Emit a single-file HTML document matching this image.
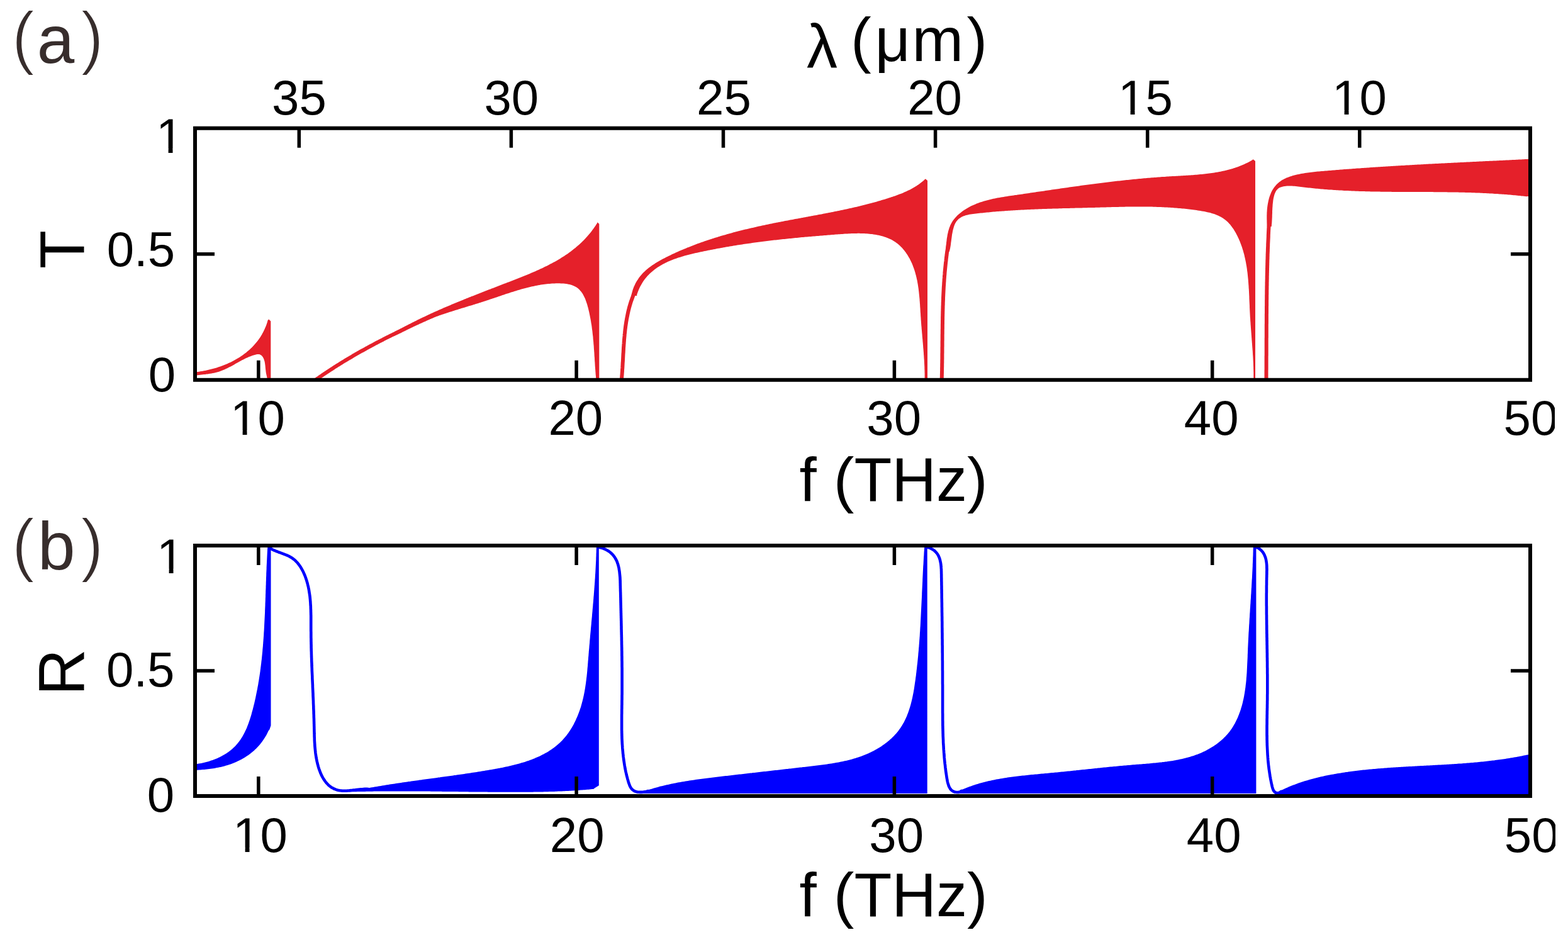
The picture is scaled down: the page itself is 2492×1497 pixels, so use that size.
<!DOCTYPE html>
<html><head><meta charset="utf-8"><title>Transmission and reflection spectra</title>
<style>html,body{margin:0;padding:0;background:#fff;overflow:hidden}svg{display:block}</style>
</head><body>
<svg xmlns="http://www.w3.org/2000/svg" width="2492" height="1497" viewBox="0 0 2492 1497">
<defs>
<clipPath id="ca"><rect x="310.0" y="203.8" width="2122.0" height="401.0"/></clipPath>
<clipPath id="cb"><rect x="310.0" y="867.0" width="2122.0" height="399.0"/></clipPath>
<clipPath id="cr"><rect x="0" y="0" width="2471" height="1497"/></clipPath>
<clipPath id="c0"><path clip-rule="evenodd" d="M1727.0 82.0H2177.0V232.0H1727.0ZM1780.81 175.17H1796.61V185.00H1780.81ZM1803.49 175.17H1818.89V185.00H1803.49Z"/></clipPath>
<clipPath id="c1"><path clip-rule="evenodd" d="M2067.0 82.0H2517.0V232.0H2067.0ZM2120.81 175.17H2136.61V185.00H2120.81ZM2143.49 175.17H2158.89V185.00H2143.49Z"/></clipPath>
<clipPath id="c2"><path clip-rule="evenodd" d="M198.0 143.0H648.0V293.0H198.0ZM251.81 236.17H267.61V246.00H251.81ZM274.49 236.17H289.89V246.00H274.49Z"/></clipPath>
<clipPath id="c3"><path clip-rule="evenodd" d="M316.0 591.0H766.0V741.0H316.0ZM369.81 684.17H385.61V694.00H369.81ZM392.49 684.17H407.89V694.00H392.49Z"/></clipPath>
<clipPath id="c4"><path clip-rule="evenodd" d="M2339.6 591.1H2471.0V741.1H2339.6Z"/></clipPath>
<clipPath id="c5"><path clip-rule="evenodd" d="M199.0 811.0H649.0V961.0H199.0ZM252.81 904.17H268.61V914.00H252.81ZM275.49 904.17H290.89V914.00H275.49Z"/></clipPath>
<clipPath id="c6"><path clip-rule="evenodd" d="M320.0 1254.0H770.0V1404.0H320.0ZM373.81 1347.17H389.61V1357.00H373.81ZM396.49 1347.17H411.89V1357.00H396.49Z"/></clipPath>
<clipPath id="c7"><path clip-rule="evenodd" d="M2340.8 1253.8H2472.0V1403.8H2340.8Z"/></clipPath>
</defs>
<rect width="2492" height="1497" fill="#fff"/>
<g clip-path="url(#ca)" fill="#e5202a" stroke="none">
<path d="M300.0 592.5 L302.0 592.2 L304.0 592.0 L306.0 591.9 L308.0 591.7 L310.0 591.4 L312.0 591.2 L314.1 590.9 L316.1 590.7 L318.1 590.3 L320.1 590.0 L322.1 589.7 L324.1 589.3 L326.2 588.9 L328.2 588.5 L330.2 588.1 L332.2 587.6 L334.2 587.1 L336.2 586.6 L338.2 586.1 L340.2 585.5 L342.1 585.0 L344.1 584.4 L346.1 583.7 L348.0 583.1 L350.0 582.4 L351.9 581.7 L353.9 581.0 L355.8 580.3 L357.7 579.5 L359.6 578.7 L361.5 577.9 L363.3 577.1 L365.2 576.2 L367.0 575.4 L368.8 574.5 L370.7 573.5 L372.5 572.6 L374.2 571.6 L376.0 570.6 L377.7 569.6 L379.5 568.5 L381.2 567.4 L382.9 566.3 L384.5 565.2 L386.2 564.0 L387.8 562.8 L389.4 561.6 L391.0 560.4 L392.5 559.1 L394.1 557.8 L395.6 556.5 L397.1 555.2 L398.5 553.8 L400.0 552.4 L401.4 551.0 L402.8 549.6 L404.1 548.1 L405.4 546.6 L406.7 545.1 L408.0 543.5 L409.2 542.0 L410.5 540.3 L411.6 538.7 L412.8 537.0 L413.9 535.4 L415.0 533.6 L416.0 531.9 L417.0 530.1 L418.0 528.3 L418.9 526.5 L419.8 524.6 L420.7 522.8 L421.5 520.8 L422.3 518.9 L423.1 516.9 L423.8 514.9 L424.5 512.9 L425.1 510.8 L425.7 508.8 L427.3 507.6 L430.3 510.5 L430.3 610.0 L424.6 610.0 L424.9 607.7 L424.9 605.5 L424.9 603.5 L424.7 601.7 L424.4 599.9 L424.0 598.1 L423.6 596.3 L423.2 594.5 L422.8 592.6 L422.5 590.6 L422.3 588.4 L422.0 586.2 L421.8 583.9 L421.6 581.6 L421.3 579.3 L421.0 577.0 L420.6 574.8 L420.0 572.7 L419.4 570.7 L418.6 568.9 L417.6 567.2 L416.5 565.8 L415.1 564.6 L413.7 563.7 L412.1 563.1 L410.4 563.0 L408.5 563.1 L406.7 563.5 L404.8 564.0 L403.0 564.5 L401.2 565.1 L399.3 565.7 L397.5 566.4 L395.7 567.1 L393.9 567.9 L392.0 568.7 L390.2 569.6 L388.4 570.5 L386.6 571.4 L384.8 572.3 L383.0 573.3 L381.2 574.3 L379.4 575.3 L377.6 576.3 L375.7 577.3 L373.9 578.3 L372.1 579.4 L370.3 580.4 L368.5 581.4 L366.6 582.4 L364.8 583.3 L362.9 584.3 L361.1 585.2 L359.2 586.1 L357.4 587.0 L355.5 587.8 L353.6 588.6 L351.7 589.3 L349.8 590.0 L347.9 590.7 L345.9 591.3 L344.0 591.8 L342.0 592.3 L340.1 592.7 L338.1 593.1 L336.1 593.5 L334.1 593.8 L332.1 594.1 L330.1 594.4 L328.1 594.6 L326.1 594.9 L324.1 595.1 L322.1 595.3 L320.1 595.5 L318.0 595.8 L316.0 596.0 L314.0 596.2 L312.0 596.5 L310.0 596.8 L308.0 597.1 L306.0 597.5 L304.0 597.9 L302.0 598.3 L300.0 598.5Z"/>
<path d="M612.0 537.6 L613.3 535.9 L615.0 534.8 L616.7 533.8 L618.4 532.8 L620.2 531.7 L621.9 530.7 L623.7 529.7 L625.4 528.7 L627.1 527.7 L628.9 526.7 L630.6 525.8 L632.4 524.8 L634.2 523.8 L635.9 522.8 L637.7 521.9 L639.4 520.9 L641.2 520.0 L643.0 519.0 L644.8 518.1 L646.5 517.2 L648.3 516.2 L650.1 515.3 L651.9 514.4 L653.7 513.5 L655.5 512.6 L657.2 511.7 L659.0 510.8 L660.8 509.9 L662.6 509.0 L664.4 508.1 L666.2 507.2 L668.0 506.3 L669.8 505.5 L671.7 504.6 L673.5 503.7 L675.3 502.9 L677.1 502.0 L678.9 501.2 L680.7 500.3 L682.6 499.5 L684.4 498.6 L686.2 497.8 L688.0 497.0 L689.9 496.1 L691.7 495.3 L693.5 494.5 L695.4 493.7 L697.2 492.8 L699.1 492.0 L700.9 491.2 L702.7 490.4 L704.6 489.6 L706.4 488.8 L708.3 488.0 L710.1 487.2 L712.0 486.4 L713.8 485.7 L715.7 484.9 L717.5 484.1 L719.4 483.3 L721.3 482.5 L723.1 481.8 L725.0 481.0 L726.8 480.2 L728.7 479.5 L730.6 478.7 L732.4 477.9 L734.3 477.2 L736.2 476.4 L738.1 475.6 L739.9 474.9 L741.8 474.1 L743.7 473.4 L745.5 472.6 L747.4 471.9 L749.3 471.1 L751.2 470.4 L753.1 469.7 L754.9 468.9 L756.8 468.2 L758.7 467.4 L760.6 466.7 L762.5 466.0 L764.4 465.2 L766.2 464.5 L768.1 463.8 L770.0 463.0 L771.9 462.3 L773.8 461.6 L775.7 460.8 L777.6 460.1 L779.5 459.4 L781.4 458.6 L783.3 457.9 L785.2 457.2 L787.0 456.4 L788.9 455.7 L790.8 455.0 L792.7 454.2 L794.6 453.5 L796.5 452.8 L798.4 452.1 L800.3 451.3 L802.2 450.6 L804.1 449.9 L806.0 449.1 L807.9 448.4 L809.8 447.7 L811.7 446.9 L813.6 446.2 L815.5 445.5 L817.4 444.7 L819.3 444.0 L821.2 443.3 L823.1 442.5 L825.0 441.8 L826.9 441.0 L828.8 440.3 L830.6 439.5 L832.5 438.8 L834.4 438.0 L836.3 437.2 L838.2 436.5 L840.0 435.7 L841.9 434.9 L843.8 434.1 L845.6 433.3 L847.5 432.5 L849.3 431.7 L851.2 430.9 L853.0 430.1 L854.9 429.3 L856.7 428.4 L858.5 427.6 L860.4 426.7 L862.2 425.9 L864.0 425.0 L865.8 424.1 L867.6 423.3 L869.4 422.4 L871.2 421.5 L873.0 420.6 L874.7 419.6 L876.5 418.7 L878.2 417.8 L880.0 416.8 L881.7 415.9 L883.5 414.9 L885.2 413.9 L886.9 412.9 L888.6 411.9 L890.3 410.9 L892.0 409.8 L893.6 408.8 L895.3 407.7 L897.0 406.7 L898.6 405.6 L900.2 404.5 L901.9 403.4 L903.5 402.2 L905.1 401.1 L906.7 399.9 L908.2 398.7 L909.8 397.5 L911.3 396.3 L912.9 395.1 L914.4 393.9 L915.9 392.6 L917.4 391.3 L918.9 390.0 L920.4 388.7 L921.8 387.4 L923.3 386.0 L924.7 384.7 L926.1 383.3 L927.5 381.9 L928.9 380.5 L930.3 379.0 L931.6 377.6 L933.0 376.1 L934.3 374.6 L935.6 373.1 L936.9 371.5 L938.2 369.9 L939.4 368.4 L940.7 366.8 L941.9 365.1 L943.1 363.5 L944.3 361.8 L945.5 360.1 L946.6 358.4 L947.8 356.6 L948.9 354.9 L949.6 353.2 L952.3 356.0 L952.3 610.0 L947.5 610.0 L947.9 607.9 L947.7 605.9 L947.5 603.9 L947.3 601.9 L947.1 599.9 L947.0 597.9 L946.8 595.9 L946.6 593.9 L946.5 591.9 L946.3 589.9 L946.2 587.9 L946.0 585.9 L945.9 583.9 L945.7 581.9 L945.6 579.9 L945.5 577.9 L945.4 575.9 L945.2 573.9 L945.1 572.0 L945.0 570.0 L944.9 568.0 L944.7 566.0 L944.6 564.0 L944.5 562.0 L944.4 560.0 L944.2 558.0 L944.1 556.0 L943.9 554.0 L943.8 552.0 L943.7 550.0 L943.5 548.0 L943.3 546.0 L943.2 544.0 L943.0 542.0 L942.8 540.0 L942.6 538.0 L942.5 536.0 L942.3 534.0 L942.0 532.0 L941.8 530.0 L941.6 528.0 L941.4 525.9 L941.1 523.9 L940.8 521.9 L940.6 519.9 L940.3 517.8 L940.0 515.8 L939.6 513.8 L939.3 511.7 L939.0 509.7 L938.6 507.6 L938.2 505.6 L937.8 503.5 L937.4 501.5 L937.0 499.4 L936.6 497.4 L936.1 495.3 L935.6 493.2 L935.1 491.1 L934.6 489.1 L934.0 487.0 L933.5 485.0 L932.9 482.9 L932.2 480.9 L931.5 478.9 L930.8 477.0 L930.1 475.1 L929.3 473.2 L928.4 471.4 L927.5 469.7 L926.6 468.0 L925.6 466.3 L924.5 464.8 L923.4 463.3 L922.2 461.9 L921.0 460.5 L919.7 459.3 L918.3 458.1 L916.9 457.1 L915.4 456.1 L913.8 455.2 L912.2 454.5 L910.5 453.7 L908.7 453.1 L907.0 452.6 L905.1 452.1 L903.3 451.7 L901.4 451.3 L899.5 451.0 L897.5 450.8 L895.5 450.6 L893.5 450.5 L891.5 450.4 L889.5 450.3 L887.5 450.3 L885.5 450.3 L883.4 450.3 L881.4 450.4 L879.4 450.5 L877.4 450.6 L875.4 450.7 L873.4 450.9 L871.4 451.1 L869.4 451.3 L867.4 451.5 L865.4 451.8 L863.4 452.0 L861.4 452.3 L859.4 452.6 L857.4 453.0 L855.4 453.3 L853.4 453.7 L851.4 454.1 L849.5 454.5 L847.5 454.9 L845.5 455.3 L843.5 455.8 L841.6 456.2 L839.6 456.7 L837.6 457.2 L835.7 457.7 L833.7 458.2 L831.7 458.7 L829.8 459.3 L827.8 459.8 L825.9 460.4 L823.9 461.0 L822.0 461.6 L820.0 462.2 L818.0 462.8 L816.1 463.4 L814.2 464.0 L812.2 464.6 L810.3 465.2 L808.3 465.9 L806.4 466.5 L804.4 467.1 L802.5 467.8 L800.6 468.4 L798.6 469.1 L796.7 469.7 L794.7 470.4 L792.8 471.1 L790.9 471.7 L788.9 472.4 L787.0 473.0 L785.1 473.7 L783.2 474.3 L781.2 475.0 L779.3 475.6 L777.4 476.3 L775.4 476.9 L773.5 477.6 L771.6 478.2 L769.7 478.8 L767.7 479.5 L765.8 480.1 L763.9 480.7 L761.9 481.3 L760.0 481.9 L758.1 482.5 L756.2 483.1 L754.2 483.7 L752.3 484.3 L750.4 484.9 L748.5 485.5 L746.6 486.1 L744.6 486.6 L742.7 487.2 L740.8 487.8 L738.9 488.4 L737.0 489.0 L735.1 489.6 L733.2 490.1 L731.3 490.7 L729.3 491.3 L727.4 491.9 L725.5 492.5 L723.6 493.1 L721.7 493.7 L719.8 494.3 L717.9 494.9 L716.0 495.5 L714.1 496.1 L712.2 496.7 L710.3 497.3 L708.5 497.9 L706.6 498.6 L704.7 499.2 L702.8 499.8 L700.9 500.5 L699.0 501.1 L697.2 501.8 L695.3 502.5 L693.4 503.1 L691.6 503.8 L689.7 504.5 L687.8 505.2 L686.0 505.9 L684.1 506.7 L682.2 507.4 L680.4 508.1 L678.5 508.9 L676.7 509.6 L674.8 510.4 L673.0 511.2 L671.2 512.0 L669.3 512.8 L667.5 513.6 L665.7 514.5 L663.8 515.3 L662.0 516.2 L660.2 517.0 L658.4 517.9 L656.6 518.8 L654.8 519.7 L653.0 520.7 L651.2 521.6 L649.4 522.6 L647.5 523.5 L645.7 524.5 L643.9 525.4 L642.1 526.4 L640.3 527.3 L638.5 528.3 L636.7 529.2 L634.9 530.1 L633.1 530.9 L631.2 531.8 L629.4 532.6 L627.6 533.4 L625.7 534.1 L623.8 534.8 L622.0 535.5 L620.1 536.1 L618.2 536.7 L616.2 537.2 L614.3 537.7 L612.3 538.1Z"/>
<path d="M1003.6 470.0 L1003.7 468.0 L1004.2 465.8 L1004.8 463.7 L1005.4 461.6 L1006.0 459.6 L1006.8 457.6 L1007.5 455.6 L1008.4 453.7 L1009.2 451.9 L1010.1 450.1 L1011.1 448.3 L1012.1 446.6 L1013.2 444.9 L1014.3 443.2 L1015.4 441.6 L1016.6 440.0 L1017.8 438.5 L1019.1 437.0 L1020.4 435.6 L1021.7 434.1 L1023.0 432.7 L1024.4 431.4 L1025.9 430.1 L1027.3 428.8 L1028.8 427.5 L1030.3 426.3 L1031.9 425.0 L1033.4 423.9 L1035.0 422.7 L1036.7 421.6 L1038.3 420.4 L1040.0 419.4 L1041.6 418.3 L1043.3 417.2 L1045.0 416.2 L1046.8 415.2 L1048.5 414.2 L1050.3 413.2 L1052.0 412.3 L1053.8 411.3 L1055.6 410.4 L1057.4 409.5 L1059.2 408.5 L1061.0 407.7 L1062.8 406.8 L1064.7 405.9 L1066.5 405.0 L1068.3 404.1 L1070.1 403.3 L1072.0 402.4 L1073.8 401.6 L1075.6 400.8 L1077.5 399.9 L1079.3 399.1 L1081.2 398.3 L1083.0 397.5 L1084.9 396.7 L1086.7 396.0 L1088.6 395.2 L1090.5 394.4 L1092.3 393.6 L1094.2 392.9 L1096.1 392.2 L1097.9 391.4 L1099.8 390.7 L1101.7 390.0 L1103.6 389.2 L1105.5 388.5 L1107.3 387.8 L1109.2 387.1 L1111.1 386.4 L1113.0 385.8 L1114.9 385.1 L1116.8 384.4 L1118.7 383.8 L1120.6 383.1 L1122.5 382.4 L1124.4 381.8 L1126.3 381.2 L1128.3 380.5 L1130.2 379.9 L1132.1 379.3 L1134.0 378.7 L1135.9 378.1 L1137.8 377.5 L1139.8 376.9 L1141.7 376.3 L1143.6 375.7 L1145.6 375.1 L1147.5 374.6 L1149.4 374.0 L1151.4 373.4 L1153.3 372.9 L1155.2 372.3 L1157.2 371.8 L1159.1 371.2 L1161.1 370.7 L1163.0 370.2 L1165.0 369.6 L1166.9 369.1 L1168.9 368.6 L1170.8 368.1 L1172.8 367.6 L1174.7 367.1 L1176.7 366.6 L1178.7 366.1 L1180.6 365.6 L1182.6 365.1 L1184.5 364.6 L1186.5 364.2 L1188.5 363.7 L1190.4 363.2 L1192.4 362.8 L1194.4 362.3 L1196.3 361.9 L1198.3 361.4 L1200.3 361.0 L1202.2 360.5 L1204.2 360.1 L1206.2 359.6 L1208.2 359.2 L1210.1 358.8 L1212.1 358.3 L1214.1 357.9 L1216.1 357.5 L1218.1 357.1 L1220.0 356.7 L1222.0 356.2 L1224.0 355.8 L1226.0 355.4 L1228.0 355.0 L1229.9 354.6 L1231.9 354.2 L1233.9 353.8 L1235.9 353.4 L1237.9 353.1 L1239.9 352.7 L1241.8 352.3 L1243.8 351.9 L1245.8 351.5 L1247.8 351.1 L1249.8 350.7 L1251.8 350.4 L1253.8 350.0 L1255.7 349.6 L1257.7 349.2 L1259.7 348.9 L1261.7 348.5 L1263.7 348.1 L1265.7 347.8 L1267.7 347.4 L1269.7 347.0 L1271.6 346.7 L1273.6 346.3 L1275.6 345.9 L1277.6 345.6 L1279.6 345.2 L1281.6 344.8 L1283.6 344.4 L1285.5 344.1 L1287.5 343.7 L1289.5 343.3 L1291.5 343.0 L1293.5 342.6 L1295.5 342.2 L1297.4 341.9 L1299.4 341.5 L1301.4 341.1 L1303.4 340.7 L1305.4 340.4 L1307.4 340.0 L1309.3 339.6 L1311.3 339.2 L1313.3 338.8 L1315.3 338.5 L1317.2 338.1 L1319.2 337.7 L1321.2 337.3 L1323.2 336.9 L1325.1 336.5 L1327.1 336.1 L1329.1 335.7 L1331.1 335.3 L1333.0 334.9 L1335.0 334.5 L1337.0 334.1 L1338.9 333.7 L1340.9 333.3 L1342.9 332.8 L1344.8 332.4 L1346.8 332.0 L1348.8 331.5 L1350.7 331.1 L1352.7 330.7 L1354.6 330.2 L1356.6 329.8 L1358.6 329.3 L1360.5 328.9 L1362.5 328.4 L1364.4 328.0 L1366.4 327.5 L1368.3 327.0 L1370.3 326.5 L1372.2 326.0 L1374.2 325.6 L1376.1 325.1 L1378.0 324.6 L1380.0 324.1 L1381.9 323.5 L1383.9 323.0 L1385.8 322.5 L1387.7 322.0 L1389.7 321.5 L1391.6 320.9 L1393.5 320.4 L1395.4 319.8 L1397.4 319.3 L1399.3 318.7 L1401.2 318.1 L1403.1 317.6 L1405.1 317.0 L1407.0 316.4 L1408.9 315.8 L1410.8 315.2 L1412.7 314.6 L1414.6 313.9 L1416.5 313.3 L1418.4 312.7 L1420.3 312.0 L1422.2 311.4 L1424.1 310.7 L1426.0 310.0 L1427.9 309.3 L1429.7 308.6 L1431.6 307.9 L1433.5 307.2 L1435.3 306.4 L1437.1 305.6 L1439.0 304.8 L1440.8 304.0 L1442.6 303.1 L1444.4 302.3 L1446.2 301.4 L1447.9 300.5 L1449.7 299.5 L1451.4 298.5 L1453.1 297.5 L1454.8 296.5 L1456.5 295.4 L1458.2 294.3 L1459.9 293.2 L1461.5 292.0 L1463.1 290.8 L1464.7 289.6 L1466.3 288.3 L1467.9 287.0 L1469.4 285.6 L1470.8 284.2 L1474.0 287.0 L1474.0 610.0 L1469.6 610.0 L1469.6 608.1 L1469.6 606.0 L1469.6 603.9 L1469.6 601.8 L1469.6 599.8 L1469.6 597.7 L1469.6 595.7 L1469.6 593.6 L1469.5 591.6 L1469.5 589.6 L1469.4 587.6 L1469.3 585.5 L1469.3 583.5 L1469.2 581.5 L1469.1 579.5 L1469.0 577.5 L1468.9 575.5 L1468.8 573.5 L1468.7 571.5 L1468.5 569.6 L1468.4 567.6 L1468.3 565.6 L1468.1 563.6 L1468.0 561.6 L1467.9 559.7 L1467.7 557.7 L1467.6 555.7 L1467.4 553.7 L1467.2 551.8 L1467.1 549.8 L1466.9 547.8 L1466.8 545.9 L1466.6 543.9 L1466.4 541.9 L1466.3 540.0 L1466.1 538.0 L1465.9 536.0 L1465.7 534.1 L1465.6 532.1 L1465.4 530.1 L1465.2 528.1 L1465.1 526.2 L1464.9 524.2 L1464.7 522.2 L1464.6 520.2 L1464.4 518.2 L1464.2 516.2 L1464.1 514.2 L1463.9 512.2 L1463.8 510.2 L1463.6 508.2 L1463.5 506.2 L1463.4 504.2 L1463.2 502.2 L1463.1 500.1 L1463.0 498.1 L1462.8 496.1 L1462.7 494.0 L1462.6 492.0 L1462.5 490.0 L1462.3 487.9 L1462.2 485.9 L1462.1 483.8 L1461.9 481.8 L1461.8 479.7 L1461.6 477.7 L1461.5 475.6 L1461.3 473.6 L1461.1 471.5 L1460.9 469.5 L1460.7 467.4 L1460.5 465.4 L1460.3 463.4 L1460.0 461.3 L1459.8 459.3 L1459.5 457.3 L1459.2 455.3 L1458.9 453.2 L1458.6 451.2 L1458.2 449.2 L1457.9 447.2 L1457.5 445.2 L1457.0 443.3 L1456.6 441.3 L1456.1 439.3 L1455.7 437.4 L1455.1 435.4 L1454.6 433.5 L1454.0 431.5 L1453.4 429.6 L1452.8 427.7 L1452.1 425.8 L1451.4 423.9 L1450.7 422.0 L1450.0 420.2 L1449.2 418.3 L1448.3 416.5 L1447.5 414.7 L1446.6 412.9 L1445.7 411.1 L1444.7 409.4 L1443.7 407.7 L1442.7 406.0 L1441.6 404.3 L1440.5 402.7 L1439.4 401.1 L1438.2 399.5 L1437.1 398.0 L1435.8 396.4 L1434.6 395.0 L1433.3 393.6 L1431.9 392.2 L1430.5 390.8 L1429.1 389.5 L1427.7 388.3 L1426.2 387.1 L1424.7 385.9 L1423.1 384.8 L1421.5 383.7 L1419.9 382.7 L1418.3 381.8 L1416.6 380.8 L1414.8 380.0 L1413.1 379.2 L1411.3 378.4 L1409.5 377.7 L1407.6 377.0 L1405.8 376.4 L1403.9 375.8 L1402.0 375.2 L1400.0 374.7 L1398.1 374.2 L1396.1 373.8 L1394.1 373.4 L1392.1 373.0 L1390.1 372.7 L1388.1 372.4 L1386.0 372.1 L1384.0 371.9 L1382.0 371.7 L1379.9 371.5 L1377.8 371.3 L1375.8 371.2 L1373.7 371.1 L1371.6 371.0 L1369.6 370.9 L1367.5 370.9 L1365.5 370.8 L1363.4 370.8 L1361.3 370.9 L1359.3 370.9 L1357.2 370.9 L1355.2 371.0 L1353.1 371.1 L1351.0 371.2 L1349.0 371.2 L1346.9 371.4 L1344.9 371.5 L1342.8 371.6 L1340.8 371.7 L1338.8 371.9 L1336.7 372.0 L1334.7 372.2 L1332.6 372.3 L1330.6 372.5 L1328.6 372.6 L1326.5 372.8 L1324.5 372.9 L1322.5 373.1 L1320.4 373.3 L1318.4 373.4 L1316.4 373.6 L1314.4 373.7 L1312.4 373.9 L1310.4 374.0 L1308.3 374.2 L1306.3 374.4 L1304.3 374.5 L1302.3 374.7 L1300.3 374.9 L1298.3 375.0 L1296.3 375.2 L1294.3 375.4 L1292.3 375.5 L1290.3 375.7 L1288.3 375.9 L1286.3 376.1 L1284.3 376.2 L1282.3 376.4 L1280.3 376.6 L1278.3 376.8 L1276.3 377.0 L1274.4 377.1 L1272.4 377.3 L1270.4 377.5 L1268.4 377.7 L1266.4 377.9 L1264.4 378.1 L1262.5 378.3 L1260.5 378.5 L1258.5 378.7 L1256.5 378.9 L1254.5 379.1 L1252.6 379.3 L1250.6 379.5 L1248.6 379.7 L1246.6 379.9 L1244.7 380.1 L1242.7 380.3 L1240.7 380.5 L1238.7 380.7 L1236.8 380.9 L1234.8 381.2 L1232.8 381.4 L1230.8 381.6 L1228.9 381.8 L1226.9 382.1 L1224.9 382.3 L1223.0 382.5 L1221.0 382.8 L1219.0 383.0 L1217.1 383.3 L1215.1 383.5 L1213.1 383.7 L1211.1 384.0 L1209.2 384.2 L1207.2 384.5 L1205.2 384.8 L1203.3 385.0 L1201.3 385.3 L1199.3 385.6 L1197.4 385.8 L1195.4 386.1 L1193.4 386.4 L1191.4 386.7 L1189.5 386.9 L1187.5 387.2 L1185.5 387.5 L1183.5 387.8 L1181.6 388.1 L1179.6 388.4 L1177.6 388.7 L1175.6 389.0 L1173.7 389.3 L1171.7 389.6 L1169.7 389.9 L1167.7 390.3 L1165.7 390.6 L1163.8 390.9 L1161.8 391.2 L1159.8 391.6 L1157.8 391.9 L1155.8 392.3 L1153.8 392.6 L1151.9 392.9 L1149.9 393.3 L1147.9 393.7 L1145.9 394.0 L1143.9 394.4 L1141.9 394.7 L1139.9 395.1 L1137.9 395.5 L1135.9 395.9 L1133.9 396.3 L1131.9 396.7 L1129.9 397.0 L1127.9 397.4 L1125.9 397.8 L1123.9 398.3 L1121.9 398.7 L1119.8 399.1 L1117.8 399.5 L1115.8 399.9 L1113.8 400.3 L1111.8 400.8 L1109.7 401.2 L1107.7 401.7 L1105.7 402.1 L1103.7 402.6 L1101.7 403.1 L1099.7 403.5 L1097.7 404.0 L1095.7 404.5 L1093.7 405.0 L1091.7 405.6 L1089.7 406.1 L1087.7 406.6 L1085.7 407.2 L1083.8 407.8 L1081.8 408.4 L1079.9 409.0 L1077.9 409.6 L1076.0 410.3 L1074.1 410.9 L1072.2 411.6 L1070.3 412.3 L1068.5 413.0 L1066.6 413.8 L1064.8 414.5 L1062.9 415.3 L1061.1 416.1 L1059.3 417.0 L1057.6 417.8 L1055.8 418.7 L1054.1 419.6 L1052.4 420.5 L1050.7 421.5 L1049.0 422.5 L1047.4 423.5 L1045.7 424.5 L1044.1 425.6 L1042.5 426.7 L1041.0 427.8 L1039.5 429.0 L1038.0 430.2 L1036.5 431.4 L1035.0 432.7 L1033.6 434.0 L1032.2 435.3 L1030.9 436.7 L1029.5 438.1 L1028.2 439.5 L1027.0 441.0 L1025.7 442.5 L1024.5 444.1 L1023.4 445.6 L1022.2 447.3 L1021.1 448.9 L1020.1 450.7 L1019.1 452.4 L1018.1 454.2 L1017.1 456.1 L1016.2 457.9 L1015.3 459.9 L1014.5 461.9 L1013.7 463.9 L1013.0 465.9 L1012.2 468.1 L1012.3 470.0Z"/>
<path d="M1502.6 400.0 L1503.0 398.2 L1503.2 396.3 L1503.3 394.3 L1503.5 392.3 L1503.7 390.3 L1503.8 388.3 L1504.0 386.2 L1504.3 384.2 L1504.5 382.1 L1504.7 380.0 L1505.0 378.0 L1505.4 375.9 L1505.7 373.8 L1506.1 371.8 L1506.6 369.7 L1507.0 367.7 L1507.6 365.7 L1508.2 363.8 L1508.8 361.8 L1509.6 360.0 L1510.3 358.1 L1511.2 356.3 L1512.1 354.5 L1513.1 352.8 L1514.2 351.1 L1515.3 349.5 L1516.5 347.9 L1517.8 346.4 L1519.1 344.9 L1520.5 343.5 L1521.9 342.1 L1523.4 340.7 L1524.9 339.4 L1526.5 338.2 L1528.0 336.9 L1529.6 335.7 L1531.3 334.6 L1532.9 333.5 L1534.6 332.4 L1536.2 331.4 L1537.9 330.4 L1539.6 329.4 L1541.4 328.5 L1543.1 327.6 L1544.9 326.8 L1546.7 325.9 L1548.5 325.2 L1550.3 324.4 L1552.1 323.6 L1554.0 322.9 L1555.8 322.3 L1557.7 321.6 L1559.6 321.0 L1561.4 320.4 L1563.3 319.8 L1565.3 319.2 L1567.2 318.7 L1569.1 318.2 L1571.1 317.7 L1573.0 317.2 L1575.0 316.7 L1576.9 316.3 L1578.9 315.8 L1580.9 315.4 L1582.9 315.0 L1584.9 314.6 L1586.9 314.3 L1588.9 313.9 L1590.9 313.6 L1592.9 313.2 L1594.9 312.9 L1597.0 312.6 L1599.0 312.2 L1601.0 311.9 L1603.0 311.6 L1605.1 311.3 L1607.1 311.0 L1609.1 310.7 L1611.2 310.4 L1613.2 310.1 L1615.2 309.9 L1617.2 309.6 L1619.3 309.3 L1621.3 309.0 L1623.3 308.7 L1625.3 308.4 L1627.3 308.1 L1629.4 307.8 L1631.4 307.5 L1633.4 307.2 L1635.4 306.9 L1637.4 306.6 L1639.4 306.3 L1641.4 306.0 L1643.4 305.7 L1645.4 305.4 L1647.4 305.1 L1649.5 304.8 L1651.5 304.5 L1653.5 304.3 L1655.5 304.0 L1657.5 303.7 L1659.5 303.4 L1661.5 303.1 L1663.5 302.8 L1665.5 302.5 L1667.4 302.2 L1669.4 301.9 L1671.4 301.6 L1673.4 301.3 L1675.4 301.0 L1677.4 300.7 L1679.4 300.5 L1681.4 300.2 L1683.4 299.9 L1685.4 299.6 L1687.4 299.3 L1689.4 299.0 L1691.3 298.7 L1693.3 298.5 L1695.3 298.2 L1697.3 297.9 L1699.3 297.6 L1701.3 297.3 L1703.3 297.0 L1705.3 296.8 L1707.2 296.5 L1709.2 296.2 L1711.2 295.9 L1713.2 295.7 L1715.2 295.4 L1717.2 295.1 L1719.1 294.8 L1721.1 294.6 L1723.1 294.3 L1725.1 294.0 L1727.1 293.8 L1729.1 293.5 L1731.0 293.2 L1733.0 293.0 L1735.0 292.7 L1737.0 292.5 L1739.0 292.2 L1740.9 291.9 L1742.9 291.7 L1744.9 291.4 L1746.9 291.2 L1748.9 290.9 L1750.9 290.7 L1752.8 290.4 L1754.8 290.2 L1756.8 289.9 L1758.8 289.7 L1760.8 289.5 L1762.8 289.2 L1764.8 289.0 L1766.7 288.7 L1768.7 288.5 L1770.7 288.3 L1772.7 288.1 L1774.7 287.8 L1776.7 287.6 L1778.7 287.4 L1780.7 287.2 L1782.7 286.9 L1784.6 286.7 L1786.6 286.5 L1788.6 286.3 L1790.6 286.1 L1792.6 285.9 L1794.6 285.7 L1796.6 285.4 L1798.6 285.2 L1800.6 285.0 L1802.6 284.8 L1804.6 284.7 L1806.6 284.5 L1808.6 284.3 L1810.6 284.1 L1812.6 283.9 L1814.6 283.7 L1816.6 283.5 L1818.6 283.3 L1820.6 283.2 L1822.6 283.0 L1824.6 282.8 L1826.6 282.7 L1828.7 282.5 L1830.7 282.3 L1832.7 282.2 L1834.7 282.0 L1836.7 281.9 L1838.7 281.7 L1840.8 281.6 L1842.8 281.4 L1844.8 281.3 L1846.8 281.1 L1848.8 281.0 L1850.9 280.9 L1852.9 280.7 L1854.9 280.6 L1857.0 280.5 L1859.0 280.3 L1861.0 280.2 L1863.1 280.1 L1865.1 280.0 L1867.1 279.9 L1869.2 279.8 L1871.2 279.7 L1873.2 279.5 L1875.3 279.4 L1877.3 279.3 L1879.4 279.2 L1881.4 279.1 L1883.4 279.0 L1885.5 278.8 L1887.5 278.7 L1889.6 278.6 L1891.6 278.4 L1893.6 278.3 L1895.7 278.2 L1897.7 278.0 L1899.7 277.8 L1901.7 277.7 L1903.8 277.5 L1905.8 277.3 L1907.8 277.1 L1909.8 277.0 L1911.8 276.7 L1913.9 276.5 L1915.9 276.3 L1917.9 276.1 L1919.9 275.8 L1921.9 275.6 L1923.9 275.3 L1925.9 275.0 L1927.8 274.7 L1929.8 274.4 L1931.8 274.1 L1933.8 273.8 L1935.7 273.4 L1937.7 273.0 L1939.7 272.7 L1941.6 272.3 L1943.6 271.8 L1945.5 271.4 L1947.5 271.0 L1949.4 270.5 L1951.3 270.0 L1953.2 269.5 L1955.1 269.0 L1957.0 268.4 L1958.9 267.9 L1960.8 267.3 L1962.7 266.7 L1964.6 266.0 L1966.5 265.4 L1968.3 264.7 L1970.2 264.0 L1972.0 263.3 L1973.9 262.5 L1975.7 261.8 L1977.5 261.0 L1979.3 260.1 L1981.1 259.3 L1982.9 258.4 L1984.7 257.5 L1986.5 256.6 L1988.2 255.6 L1990.0 254.6 L1991.6 253.3 L1995.0 256.0 L1995.0 610.0 L1992.3 610.0 L1992.2 608.1 L1992.2 606.0 L1992.3 604.0 L1992.3 601.9 L1992.3 599.9 L1992.3 597.9 L1992.3 595.9 L1992.3 593.9 L1992.3 591.8 L1992.2 589.8 L1992.2 587.8 L1992.1 585.8 L1992.1 583.8 L1992.0 581.8 L1991.9 579.8 L1991.9 577.8 L1991.8 575.8 L1991.7 573.8 L1991.6 571.8 L1991.5 569.8 L1991.4 567.8 L1991.3 565.8 L1991.1 563.8 L1991.0 561.8 L1990.9 559.8 L1990.8 557.8 L1990.6 555.8 L1990.5 553.9 L1990.3 551.9 L1990.2 549.9 L1990.0 547.9 L1989.9 545.9 L1989.7 543.9 L1989.6 541.9 L1989.4 539.9 L1989.3 538.0 L1989.1 536.0 L1989.0 534.0 L1988.8 532.0 L1988.7 530.0 L1988.5 528.0 L1988.4 526.0 L1988.2 524.0 L1988.1 522.1 L1987.9 520.1 L1987.8 518.1 L1987.6 516.1 L1987.5 514.1 L1987.4 512.1 L1987.2 510.1 L1987.1 508.1 L1987.0 506.1 L1986.8 504.1 L1986.7 502.1 L1986.6 500.1 L1986.5 498.1 L1986.4 496.0 L1986.3 494.0 L1986.2 492.0 L1986.1 490.0 L1986.0 488.0 L1986.0 486.0 L1985.9 483.9 L1985.8 481.9 L1985.7 479.9 L1985.6 477.9 L1985.5 475.9 L1985.4 473.8 L1985.4 471.8 L1985.3 469.8 L1985.2 467.8 L1985.1 465.7 L1985.0 463.7 L1984.9 461.7 L1984.8 459.7 L1984.6 457.7 L1984.5 455.6 L1984.4 453.6 L1984.2 451.6 L1984.1 449.6 L1983.9 447.6 L1983.8 445.6 L1983.6 443.6 L1983.4 441.6 L1983.2 439.5 L1983.0 437.5 L1982.8 435.6 L1982.6 433.6 L1982.3 431.6 L1982.0 429.6 L1981.8 427.6 L1981.5 425.6 L1981.2 423.6 L1980.9 421.7 L1980.5 419.7 L1980.2 417.7 L1979.8 415.8 L1979.4 413.8 L1979.0 411.9 L1978.6 409.9 L1978.1 408.0 L1977.7 406.0 L1977.2 404.1 L1976.7 402.2 L1976.1 400.2 L1975.6 398.3 L1975.0 396.4 L1974.4 394.5 L1973.8 392.6 L1973.1 390.7 L1972.4 388.8 L1971.7 387.0 L1971.0 385.1 L1970.3 383.2 L1969.5 381.4 L1968.7 379.5 L1967.8 377.7 L1966.9 375.8 L1966.0 374.0 L1965.1 372.2 L1964.2 370.4 L1963.2 368.7 L1962.1 366.9 L1961.1 365.2 L1960.0 363.5 L1958.8 361.9 L1957.6 360.3 L1956.4 358.7 L1955.2 357.1 L1953.9 355.7 L1952.6 354.2 L1951.2 352.8 L1949.8 351.5 L1948.3 350.2 L1946.8 349.0 L1945.3 347.9 L1943.7 346.8 L1942.0 345.8 L1940.4 344.8 L1938.7 343.9 L1936.9 343.0 L1935.1 342.2 L1933.3 341.5 L1931.5 340.8 L1929.6 340.1 L1927.7 339.5 L1925.8 338.9 L1923.9 338.3 L1921.9 337.8 L1919.9 337.4 L1917.9 336.9 L1915.9 336.5 L1913.9 336.1 L1911.9 335.7 L1909.9 335.4 L1907.8 335.0 L1905.8 334.7 L1903.7 334.4 L1901.7 334.1 L1899.7 333.8 L1897.6 333.5 L1895.6 333.3 L1893.5 333.0 L1891.5 332.7 L1889.5 332.5 L1887.4 332.3 L1885.4 332.0 L1883.4 331.8 L1881.4 331.6 L1879.3 331.4 L1877.3 331.2 L1875.3 331.0 L1873.3 330.9 L1871.2 330.7 L1869.2 330.5 L1867.2 330.4 L1865.2 330.2 L1863.2 330.1 L1861.2 329.9 L1859.1 329.8 L1857.1 329.7 L1855.1 329.6 L1853.1 329.5 L1851.1 329.4 L1849.1 329.3 L1847.1 329.2 L1845.1 329.1 L1843.1 329.0 L1841.1 328.9 L1839.0 328.9 L1837.0 328.8 L1835.0 328.7 L1833.0 328.7 L1831.0 328.6 L1829.0 328.6 L1827.0 328.6 L1825.0 328.5 L1823.0 328.5 L1821.0 328.5 L1819.0 328.5 L1817.0 328.5 L1815.0 328.4 L1813.0 328.4 L1811.0 328.4 L1809.1 328.4 L1807.1 328.4 L1805.1 328.4 L1803.1 328.5 L1801.1 328.5 L1799.1 328.5 L1797.1 328.5 L1795.1 328.5 L1793.1 328.6 L1791.1 328.6 L1789.1 328.6 L1787.1 328.7 L1785.1 328.7 L1783.1 328.7 L1781.1 328.8 L1779.2 328.8 L1777.2 328.9 L1775.2 328.9 L1773.2 329.0 L1771.2 329.0 L1769.2 329.1 L1767.2 329.1 L1765.2 329.2 L1763.2 329.2 L1761.2 329.3 L1759.2 329.3 L1757.2 329.4 L1755.2 329.4 L1753.2 329.5 L1751.3 329.5 L1749.3 329.6 L1747.3 329.7 L1745.3 329.7 L1743.3 329.8 L1741.3 329.8 L1739.3 329.9 L1737.3 329.9 L1735.3 330.0 L1733.3 330.0 L1731.3 330.1 L1729.3 330.1 L1727.3 330.2 L1725.3 330.2 L1723.3 330.3 L1721.3 330.3 L1719.3 330.4 L1717.3 330.4 L1715.3 330.5 L1713.3 330.5 L1711.3 330.6 L1709.3 330.6 L1707.3 330.7 L1705.3 330.7 L1703.3 330.8 L1701.3 330.8 L1699.3 330.9 L1697.3 330.9 L1695.3 331.0 L1693.2 331.0 L1691.2 331.1 L1689.2 331.1 L1687.2 331.2 L1685.2 331.3 L1683.2 331.3 L1681.2 331.4 L1679.2 331.4 L1677.2 331.5 L1675.2 331.5 L1673.2 331.6 L1671.2 331.7 L1669.2 331.7 L1667.2 331.8 L1665.2 331.8 L1663.1 331.9 L1661.1 332.0 L1659.1 332.1 L1657.1 332.1 L1655.1 332.2 L1653.1 332.3 L1651.1 332.3 L1649.1 332.4 L1647.1 332.5 L1645.1 332.6 L1643.1 332.7 L1641.0 332.7 L1639.0 332.8 L1637.0 332.9 L1635.0 333.0 L1633.0 333.1 L1631.0 333.2 L1629.0 333.3 L1627.0 333.4 L1625.0 333.5 L1623.0 333.6 L1621.0 333.7 L1618.9 333.8 L1616.9 333.9 L1614.9 334.1 L1612.9 334.2 L1610.9 334.3 L1608.9 334.4 L1606.9 334.5 L1604.9 334.7 L1602.9 334.8 L1600.9 334.9 L1598.9 335.1 L1596.9 335.2 L1594.8 335.4 L1592.8 335.5 L1590.8 335.7 L1588.8 335.8 L1586.8 336.0 L1584.8 336.1 L1582.8 336.3 L1580.8 336.5 L1578.8 336.6 L1576.8 336.8 L1574.8 337.0 L1572.8 337.2 L1570.8 337.4 L1568.8 337.6 L1566.8 337.8 L1564.7 338.0 L1562.7 338.2 L1560.7 338.4 L1558.7 338.6 L1556.7 338.8 L1554.7 339.0 L1552.7 339.2 L1550.7 339.5 L1548.7 339.7 L1546.7 340.0 L1544.7 340.2 L1542.8 340.5 L1540.8 340.8 L1538.9 341.2 L1537.0 341.7 L1535.2 342.1 L1533.4 342.7 L1531.6 343.3 L1530.0 344.0 L1528.3 344.8 L1526.8 345.7 L1525.3 346.7 L1523.8 347.8 L1522.5 349.0 L1521.2 350.4 L1520.1 351.8 L1519.0 353.4 L1518.0 355.2 L1517.2 357.1 L1516.4 359.1 L1515.7 361.2 L1515.1 363.4 L1514.5 365.6 L1514.0 367.9 L1513.6 370.2 L1513.1 372.6 L1512.8 374.9 L1512.5 377.2 L1512.2 379.5 L1511.9 381.8 L1511.6 384.0 L1511.3 386.1 L1511.1 388.2 L1510.8 390.2 L1510.5 392.0 L1510.2 393.8 L1509.9 395.5 L1509.5 397.1 L1509.1 398.6 L1508.6 400.0Z"/>
<path d="M2013.5 360.0 L2013.8 358.4 L2013.6 356.4 L2013.5 354.5 L2013.4 352.4 L2013.4 350.4 L2013.3 348.4 L2013.3 346.3 L2013.3 344.2 L2013.3 342.1 L2013.4 340.0 L2013.4 337.9 L2013.6 335.7 L2013.7 333.6 L2013.9 331.5 L2014.1 329.4 L2014.4 327.3 L2014.7 325.2 L2015.1 323.1 L2015.5 321.0 L2015.9 319.0 L2016.4 317.0 L2016.9 315.0 L2017.5 313.0 L2018.2 311.1 L2018.9 309.2 L2019.6 307.4 L2020.4 305.6 L2021.3 303.8 L2022.2 302.1 L2023.2 300.5 L2024.2 298.9 L2025.4 297.3 L2026.5 295.9 L2027.7 294.4 L2029.0 293.1 L2030.4 291.8 L2031.8 290.5 L2033.2 289.3 L2034.7 288.2 L2036.3 287.1 L2037.9 286.1 L2039.5 285.2 L2041.2 284.3 L2043.0 283.4 L2044.7 282.6 L2046.6 281.9 L2048.4 281.2 L2050.3 280.5 L2052.2 279.9 L2054.1 279.3 L2056.0 278.8 L2058.0 278.3 L2060.0 277.8 L2062.0 277.3 L2064.0 276.9 L2066.0 276.5 L2068.0 276.1 L2070.0 275.8 L2072.0 275.4 L2074.0 275.1 L2076.1 274.8 L2078.1 274.5 L2080.1 274.2 L2082.1 274.0 L2084.1 273.7 L2086.2 273.5 L2088.2 273.3 L2090.2 273.0 L2092.2 272.8 L2094.3 272.6 L2096.3 272.5 L2098.3 272.3 L2100.3 272.1 L2102.3 271.9 L2104.4 271.7 L2106.4 271.6 L2108.4 271.4 L2110.4 271.2 L2112.5 271.1 L2114.5 270.9 L2116.5 270.7 L2118.5 270.6 L2120.5 270.4 L2122.5 270.2 L2124.6 270.1 L2126.6 269.9 L2128.6 269.8 L2130.6 269.6 L2132.6 269.4 L2134.6 269.3 L2136.7 269.1 L2138.7 269.0 L2140.7 268.8 L2142.7 268.7 L2144.7 268.5 L2146.7 268.4 L2148.8 268.2 L2150.8 268.1 L2152.8 267.9 L2154.8 267.8 L2156.8 267.6 L2158.8 267.5 L2160.8 267.4 L2162.8 267.2 L2164.8 267.1 L2166.9 266.9 L2168.9 266.8 L2170.9 266.7 L2172.9 266.5 L2174.9 266.4 L2176.9 266.2 L2178.9 266.1 L2180.9 266.0 L2182.9 265.8 L2184.9 265.7 L2187.0 265.6 L2189.0 265.4 L2191.0 265.3 L2193.0 265.2 L2195.0 265.1 L2197.0 264.9 L2199.0 264.8 L2201.0 264.7 L2203.0 264.5 L2205.0 264.4 L2207.0 264.3 L2209.0 264.2 L2211.0 264.0 L2213.0 263.9 L2215.0 263.8 L2217.1 263.7 L2219.1 263.6 L2221.1 263.4 L2223.1 263.3 L2225.1 263.2 L2227.1 263.1 L2229.1 263.0 L2231.1 262.9 L2233.1 262.7 L2235.1 262.6 L2237.1 262.5 L2239.1 262.4 L2241.1 262.3 L2243.1 262.2 L2245.1 262.1 L2247.1 261.9 L2249.1 261.8 L2251.1 261.7 L2253.1 261.6 L2255.1 261.5 L2257.1 261.4 L2259.1 261.3 L2261.1 261.2 L2263.2 261.1 L2265.2 261.0 L2267.2 260.8 L2269.2 260.7 L2271.2 260.6 L2273.2 260.5 L2275.2 260.4 L2277.2 260.3 L2279.2 260.2 L2281.2 260.1 L2283.2 260.0 L2285.2 259.9 L2287.2 259.8 L2289.2 259.7 L2291.2 259.6 L2293.2 259.5 L2295.2 259.4 L2297.2 259.3 L2299.2 259.2 L2301.2 259.1 L2303.2 259.0 L2305.2 258.9 L2307.2 258.8 L2309.2 258.7 L2311.3 258.6 L2313.3 258.5 L2315.3 258.4 L2317.3 258.3 L2319.3 258.2 L2321.3 258.1 L2323.3 258.0 L2325.3 257.9 L2327.3 257.8 L2329.3 257.7 L2331.3 257.6 L2333.3 257.5 L2335.3 257.4 L2337.3 257.3 L2339.3 257.2 L2341.3 257.1 L2343.4 257.0 L2345.4 256.9 L2347.4 256.8 L2349.4 256.7 L2351.4 256.6 L2353.4 256.5 L2355.4 256.4 L2357.4 256.3 L2359.4 256.2 L2361.4 256.1 L2363.4 256.0 L2365.5 255.9 L2367.5 255.8 L2369.5 255.7 L2371.5 255.7 L2373.5 255.6 L2375.5 255.5 L2377.5 255.4 L2379.5 255.3 L2381.6 255.2 L2383.6 255.1 L2385.6 255.0 L2387.6 254.9 L2389.6 254.8 L2391.6 254.7 L2393.6 254.6 L2395.7 254.5 L2397.7 254.4 L2399.7 254.3 L2401.7 254.2 L2403.7 254.1 L2405.7 254.0 L2407.8 253.9 L2409.8 253.8 L2411.8 253.7 L2413.8 253.6 L2415.8 253.5 L2417.8 253.4 L2419.9 253.3 L2421.9 253.2 L2423.9 253.1 L2425.9 253.0 L2428.0 252.9 L2430.0 252.8 L2432.0 252.7 L2434.0 252.6 L2436.0 252.5 L2438.1 252.4 L2440.0 252.5 L2440.0 313.0 L2427.8 312.0 L2425.9 312.3 L2423.9 312.0 L2421.8 311.8 L2419.8 311.6 L2417.8 311.4 L2415.8 311.1 L2413.8 310.9 L2411.7 310.7 L2409.7 310.5 L2407.7 310.3 L2405.7 310.2 L2403.7 310.0 L2401.7 309.8 L2399.6 309.6 L2397.6 309.4 L2395.6 309.3 L2393.6 309.1 L2391.6 309.0 L2389.6 308.8 L2387.6 308.7 L2385.5 308.5 L2383.5 308.4 L2381.5 308.2 L2379.5 308.1 L2377.5 308.0 L2375.5 307.9 L2373.5 307.7 L2371.4 307.6 L2369.4 307.5 L2367.4 307.4 L2365.4 307.3 L2363.4 307.2 L2361.4 307.1 L2359.4 307.0 L2357.4 306.9 L2355.3 306.8 L2353.3 306.7 L2351.3 306.6 L2349.3 306.5 L2347.3 306.5 L2345.3 306.4 L2343.3 306.3 L2341.3 306.3 L2339.3 306.2 L2337.3 306.1 L2335.2 306.1 L2333.2 306.0 L2331.2 305.9 L2329.2 305.9 L2327.2 305.8 L2325.2 305.8 L2323.2 305.7 L2321.2 305.7 L2319.2 305.7 L2317.2 305.6 L2315.1 305.6 L2313.1 305.5 L2311.1 305.5 L2309.1 305.5 L2307.1 305.4 L2305.1 305.4 L2303.1 305.4 L2301.1 305.4 L2299.1 305.3 L2297.1 305.3 L2295.1 305.3 L2293.0 305.3 L2291.0 305.2 L2289.0 305.2 L2287.0 305.2 L2285.0 305.2 L2283.0 305.2 L2281.0 305.2 L2279.0 305.2 L2277.0 305.1 L2275.0 305.1 L2273.0 305.1 L2271.0 305.1 L2268.9 305.1 L2266.9 305.1 L2264.9 305.1 L2262.9 305.1 L2260.9 305.1 L2258.9 305.1 L2256.9 305.1 L2254.9 305.1 L2252.9 305.0 L2250.9 305.0 L2248.9 305.0 L2246.8 305.0 L2244.8 305.0 L2242.8 305.0 L2240.8 305.0 L2238.8 305.0 L2236.8 305.0 L2234.8 305.0 L2232.8 305.0 L2230.8 305.0 L2228.8 305.0 L2226.8 305.0 L2224.7 304.9 L2222.7 304.9 L2220.7 304.9 L2218.7 304.9 L2216.7 304.9 L2214.7 304.9 L2212.7 304.9 L2210.7 304.8 L2208.7 304.8 L2206.7 304.8 L2204.6 304.8 L2202.6 304.8 L2200.6 304.7 L2198.6 304.7 L2196.6 304.7 L2194.6 304.7 L2192.6 304.6 L2190.6 304.6 L2188.6 304.6 L2186.5 304.5 L2184.5 304.5 L2182.5 304.4 L2180.5 304.4 L2178.5 304.4 L2176.5 304.3 L2174.5 304.3 L2172.5 304.2 L2170.4 304.2 L2168.4 304.1 L2166.4 304.1 L2164.4 304.0 L2162.4 303.9 L2160.4 303.9 L2158.4 303.8 L2156.4 303.7 L2154.3 303.7 L2152.3 303.6 L2150.3 303.5 L2148.3 303.4 L2146.3 303.3 L2144.3 303.2 L2142.2 303.1 L2140.2 303.1 L2138.2 303.0 L2136.2 302.9 L2134.2 302.8 L2132.2 302.6 L2130.1 302.5 L2128.1 302.4 L2126.1 302.3 L2124.1 302.2 L2122.1 302.0 L2120.0 301.9 L2118.0 301.8 L2116.0 301.6 L2114.0 301.5 L2112.0 301.4 L2109.9 301.2 L2107.9 301.1 L2105.9 300.9 L2103.9 300.7 L2101.9 300.6 L2099.8 300.4 L2097.8 300.2 L2095.8 300.0 L2093.8 299.8 L2091.8 299.7 L2089.7 299.5 L2087.7 299.3 L2085.7 299.1 L2083.7 298.8 L2081.6 298.6 L2079.6 298.4 L2077.6 298.2 L2075.6 298.0 L2073.5 297.7 L2071.5 297.5 L2069.5 297.2 L2067.4 297.0 L2065.4 296.7 L2063.4 296.5 L2061.4 296.2 L2059.4 296.0 L2057.3 295.8 L2055.3 295.7 L2053.4 295.5 L2051.4 295.5 L2049.4 295.4 L2047.5 295.5 L2045.5 295.5 L2043.6 295.7 L2041.7 295.9 L2039.9 296.2 L2038.0 296.7 L2036.3 297.2 L2034.6 297.8 L2033.0 298.6 L2031.6 299.6 L2030.3 300.8 L2029.1 302.1 L2028.0 303.5 L2027.1 305.2 L2026.3 306.9 L2025.6 308.7 L2025.0 310.7 L2024.5 312.7 L2024.0 314.8 L2023.6 316.9 L2023.3 319.1 L2023.1 321.3 L2022.8 323.5 L2022.6 325.6 L2022.5 327.8 L2022.3 329.9 L2022.2 332.0 L2022.1 334.1 L2022.0 336.1 L2022.0 338.2 L2021.9 340.2 L2021.8 342.2 L2021.8 344.2 L2021.7 346.2 L2021.6 348.2 L2021.5 350.2 L2021.4 352.1 L2021.3 354.1 L2021.1 356.0 L2020.9 358.0 L2020.8 360.0Z"/>
</g>
<g clip-path="url(#ca)" fill="none" stroke="#e5202a" stroke-width="6.0" stroke-linecap="round" stroke-linejoin="round">
<path d="M498.0 606.0 L499.8 605.0 L501.4 603.8 L503.1 602.7 L504.7 601.5 L506.4 600.4 L508.0 599.2 L509.7 598.1 L511.4 596.9 L513.0 595.8 L514.7 594.6 L516.4 593.5 L518.0 592.4 L519.7 591.3 L521.4 590.2 L523.1 589.1 L524.8 587.9 L526.5 586.8 L528.2 585.8 L529.8 584.7 L531.5 583.6 L533.2 582.5 L534.9 581.4 L536.7 580.3 L538.4 579.3 L540.1 578.2 L541.8 577.1 L543.5 576.1 L545.2 575.0 L546.9 574.0 L548.7 572.9 L550.4 571.9 L552.1 570.9 L553.9 569.8 L555.6 568.8 L557.3 567.8 L559.1 566.8 L560.8 565.7 L562.5 564.7 L564.3 563.7 L566.0 562.7 L567.8 561.7 L569.5 560.7 L571.3 559.7 L573.0 558.7 L574.8 557.7 L576.6 556.8 L578.3 555.8 L580.1 554.8 L581.8 553.8 L583.6 552.9 L585.4 551.9 L587.2 550.9 L588.9 550.0 L590.7 549.0 L592.5 548.1 L594.3 547.1 L596.0 546.2 L597.8 545.2 L599.6 544.3 L601.4 543.4 L603.2 542.4 L605.0 541.5 L606.8 540.6 L608.6 539.7 L610.4 538.7 L612.1 537.8 L613.9 536.9 L615.7 536.0 L617.5 535.1 L619.3 534.2 L621.2 533.3 L623.0 532.4 L624.8 531.5 L626.6 530.6 L628.4 529.7 L630.2 528.8 L632.0 527.9 L633.8 527.0 L635.6 526.2 L637.5 525.3 L639.3 524.4 L641.1 523.5 L642.9 522.7 L644.7 521.8 L646.6 520.9 L648.4 520.1 L650.2 519.2 L652.0 518.3 L653.9 517.5 L655.7 516.6 L657.5 515.8 L659.3 514.9 L661.2 514.1 L663.0 513.2 L664.8 512.4 L666.7 511.5 L668.5 510.7 L670.3 509.9 L672.2 509.0 L674.0 508.2 L675.9 507.4 L677.7 506.5 L679.5 505.7 L681.4 504.9 L683.2 504.0 L685.1 503.2 L686.9 502.4 L688.7 501.6 L690.6 500.8 L692.4 499.9 L694.3 499.1 L696.1 498.3 L698.0 497.5 L699.8 496.7 L701.7 495.9 L703.5 495.1 L705.4 494.3 L707.2 493.5 L709.0 492.7 L710.9 491.9 L712.7 491.0 L714.6 490.2 L716.4 489.4 L718.3 488.7 L720.1 487.9 L722.0 487.1 L723.8 486.3 L725.7 485.5 L727.5 484.7 L729.4 483.9 L731.2 483.1 L733.2 482.5"/>
<path d="M987.6 607.0 L987.7 604.9 L987.9 602.9 L988.1 600.9 L988.2 598.9 L988.4 596.9 L988.6 594.8 L988.7 592.8 L988.9 590.8 L989.0 588.7 L989.1 586.7 L989.3 584.7 L989.4 582.6 L989.5 580.6 L989.6 578.5 L989.7 576.5 L989.9 574.4 L990.0 572.4 L990.1 570.3 L990.2 568.3 L990.3 566.2 L990.4 564.2 L990.5 562.1 L990.7 560.1 L990.8 558.0 L990.9 556.0 L991.0 553.9 L991.1 551.9 L991.3 549.8 L991.4 547.8 L991.6 545.7 L991.7 543.7 L991.9 541.6 L992.0 539.6 L992.2 537.5 L992.4 535.5 L992.6 533.5 L992.7 531.4 L993.0 529.4 L993.2 527.3 L993.4 525.3 L993.6 523.3 L993.9 521.2 L994.1 519.2 L994.4 517.2 L994.7 515.2 L995.0 513.2 L995.3 511.1 L995.7 509.1 L996.0 507.1 L996.4 505.1 L996.8 503.1 L997.2 501.1 L997.6 499.1 L998.0 497.1 L998.5 495.1 L998.9 493.2 L999.4 491.2 L999.9 489.2 L1000.5 487.2 L1001.0 485.3 L1001.6 483.3 L1002.2 481.4 L1002.8 479.4 L1003.5 477.5 L1004.2 475.5 L1004.9 473.6 L1005.6 471.7 L1006.3 469.7 L1007.1 467.8 L1008.0 466.0"/>
<path d="M1496.6 607.0 L1496.7 605.0 L1496.7 603.0 L1496.8 600.9 L1496.8 598.9 L1496.9 596.9 L1496.9 594.9 L1497.0 592.9 L1497.0 590.8 L1497.1 588.8 L1497.1 586.8 L1497.1 584.8 L1497.2 582.8 L1497.2 580.7 L1497.2 578.7 L1497.3 576.7 L1497.3 574.7 L1497.3 572.7 L1497.4 570.6 L1497.4 568.6 L1497.4 566.6 L1497.4 564.6 L1497.4 562.5 L1497.5 560.5 L1497.5 558.5 L1497.5 556.5 L1497.5 554.5 L1497.5 552.4 L1497.6 550.4 L1497.6 548.4 L1497.6 546.4 L1497.6 544.3 L1497.6 542.3 L1497.7 540.3 L1497.7 538.3 L1497.7 536.2 L1497.7 534.2 L1497.7 532.2 L1497.8 530.2 L1497.8 528.1 L1497.8 526.1 L1497.8 524.1 L1497.9 522.1 L1497.9 520.0 L1497.9 518.0 L1497.9 516.0 L1498.0 514.0 L1498.0 511.9 L1498.0 509.9 L1498.1 507.9 L1498.1 505.9 L1498.1 503.8 L1498.2 501.8 L1498.2 499.8 L1498.3 497.8 L1498.3 495.7 L1498.4 493.7 L1498.4 491.7 L1498.5 489.7 L1498.5 487.7 L1498.6 485.6 L1498.7 483.6 L1498.7 481.6 L1498.8 479.6 L1498.9 477.5 L1499.0 475.5 L1499.0 473.5 L1499.1 471.5 L1499.2 469.5 L1499.3 467.4 L1499.4 465.4 L1499.5 463.4 L1499.6 461.4 L1499.7 459.4 L1499.8 457.3 L1499.9 455.3 L1500.1 453.3 L1500.2 451.3 L1500.3 449.3 L1500.5 447.3 L1500.6 445.2 L1500.7 443.2 L1500.9 441.2 L1501.0 439.2 L1501.2 437.2 L1501.4 435.2 L1501.5 433.2 L1501.7 431.1 L1501.9 429.1 L1502.1 427.1 L1502.3 425.1 L1502.5 423.1 L1502.7 421.1 L1502.9 419.1 L1503.1 417.1 L1503.4 415.1 L1503.6 413.1 L1503.8 411.0 L1504.1 409.0 L1504.3 407.0 L1504.6 405.0 L1504.8 403.0 L1505.1 401.0 L1505.4 399.0 L1505.7 397.0 L1506.0 395.0 L1506.3 393.0 L1506.6 391.0 L1506.9 389.0 L1507.2 387.0 L1507.5 385.0"/>
<path d="M2012.4 607.0 L2012.4 605.0 L2012.4 603.0 L2012.5 600.9 L2012.5 598.9 L2012.5 596.9 L2012.5 594.9 L2012.5 592.8 L2012.5 590.8 L2012.5 588.8 L2012.6 586.8 L2012.6 584.7 L2012.6 582.7 L2012.6 580.7 L2012.6 578.7 L2012.6 576.6 L2012.6 574.6 L2012.6 572.6 L2012.6 570.6 L2012.6 568.5 L2012.6 566.5 L2012.7 564.5 L2012.7 562.5 L2012.7 560.5 L2012.7 558.4 L2012.7 556.4 L2012.7 554.4 L2012.7 552.4 L2012.7 550.3 L2012.7 548.3 L2012.7 546.3 L2012.7 544.3 L2012.7 542.2 L2012.7 540.2 L2012.7 538.2 L2012.8 536.2 L2012.8 534.1 L2012.8 532.1 L2012.8 530.1 L2012.8 528.1 L2012.8 526.0 L2012.8 524.0 L2012.8 522.0 L2012.8 520.0 L2012.8 517.9 L2012.8 515.9 L2012.9 513.9 L2012.9 511.9 L2012.9 509.8 L2012.9 507.8 L2012.9 505.8 L2012.9 503.8 L2012.9 501.7 L2012.9 499.7 L2013.0 497.7 L2013.0 495.7 L2013.0 493.6 L2013.0 491.6 L2013.0 489.6 L2013.0 487.6 L2013.1 485.5 L2013.1 483.5 L2013.1 481.5 L2013.1 479.5 L2013.1 477.4 L2013.2 475.4 L2013.2 473.4 L2013.2 471.4 L2013.2 469.4 L2013.3 467.3 L2013.3 465.3 L2013.3 463.3 L2013.3 461.3 L2013.4 459.2 L2013.4 457.2 L2013.4 455.2 L2013.5 453.2 L2013.5 451.1 L2013.5 449.1 L2013.6 447.1 L2013.6 445.1 L2013.7 443.0 L2013.7 441.0 L2013.7 439.0 L2013.8 437.0 L2013.8 434.9 L2013.9 432.9 L2013.9 430.9 L2014.0 428.9 L2014.0 426.8 L2014.1 424.8 L2014.1 422.8 L2014.2 420.8 L2014.2 418.8 L2014.3 416.7 L2014.3 414.7 L2014.4 412.7 L2014.5 410.7 L2014.5 408.6 L2014.6 406.6 L2014.6 404.6 L2014.7 402.6 L2014.8 400.5 L2014.9 398.5 L2014.9 396.5 L2015.0 394.5 L2015.1 392.5 L2015.2 390.4 L2015.2 388.4 L2015.3 386.4 L2015.4 384.4 L2015.5 382.3 L2015.6 380.3 L2015.7 378.3 L2015.8 376.3 L2015.8 374.3 L2015.9 372.2 L2016.0 370.2 L2016.1 368.2 L2016.2 366.2 L2016.3 364.1 L2016.4 362.1 L2016.6 360.1 L2016.7 358.1 L2016.8 356.1 L2016.9 354.0 L2017.0 352.0 L2017.2 350.0"/>
</g>
<g clip-path="url(#cb)" fill="#0000ff" stroke="none">
<path d="M300.0 1215.0 L301.7 1215.0 L303.7 1214.9 L305.7 1214.8 L307.7 1214.6 L309.7 1214.4 L311.7 1214.2 L313.7 1213.9 L315.8 1213.6 L317.8 1213.2 L319.8 1212.9 L321.8 1212.4 L323.9 1212.0 L325.9 1211.5 L327.9 1211.0 L329.9 1210.5 L331.9 1209.9 L333.8 1209.3 L335.8 1208.6 L337.8 1207.9 L339.7 1207.2 L341.6 1206.5 L343.6 1205.7 L345.5 1204.9 L347.3 1204.0 L349.2 1203.2 L351.0 1202.2 L352.8 1201.3 L354.6 1200.3 L356.4 1199.3 L358.1 1198.2 L359.8 1197.2 L361.5 1196.0 L363.1 1194.9 L364.7 1193.7 L366.3 1192.5 L367.8 1191.2 L369.3 1190.0 L370.8 1188.6 L372.2 1187.3 L373.6 1185.9 L374.9 1184.5 L376.2 1183.1 L377.5 1181.6 L378.7 1180.1 L379.9 1178.5 L381.0 1177.0 L382.1 1175.4 L383.2 1173.8 L384.3 1172.1 L385.3 1170.5 L386.2 1168.8 L387.2 1167.1 L388.1 1165.3 L389.0 1163.6 L389.8 1161.8 L390.7 1160.0 L391.5 1158.2 L392.3 1156.4 L393.0 1154.6 L393.7 1152.7 L394.5 1150.8 L395.1 1148.9 L395.8 1147.1 L396.5 1145.1 L397.1 1143.2 L397.7 1141.3 L398.3 1139.4 L398.9 1137.4 L399.5 1135.5 L400.0 1133.5 L400.5 1131.6 L401.1 1129.6 L401.6 1127.7 L402.1 1125.7 L402.6 1123.8 L403.1 1121.8 L403.6 1119.8 L404.1 1117.9 L404.5 1115.9 L405.0 1113.9 L405.4 1112.0 L405.9 1110.0 L406.3 1108.0 L406.7 1106.0 L407.1 1104.1 L407.5 1102.1 L407.9 1100.1 L408.3 1098.1 L408.7 1096.2 L409.1 1094.2 L409.4 1092.2 L409.8 1090.2 L410.2 1088.2 L410.5 1086.3 L410.8 1084.3 L411.2 1082.3 L411.5 1080.3 L411.8 1078.3 L412.1 1076.3 L412.4 1074.4 L412.7 1072.4 L413.0 1070.4 L413.3 1068.4 L413.6 1066.4 L413.8 1064.4 L414.1 1062.4 L414.3 1060.4 L414.6 1058.4 L414.8 1056.4 L415.1 1054.4 L415.3 1052.4 L415.5 1050.4 L415.8 1048.4 L416.0 1046.4 L416.2 1044.4 L416.4 1042.4 L416.6 1040.4 L416.8 1038.4 L417.0 1036.4 L417.2 1034.4 L417.3 1032.4 L417.5 1030.4 L417.7 1028.4 L417.9 1026.4 L418.0 1024.4 L418.2 1022.4 L418.3 1020.4 L418.5 1018.4 L418.6 1016.4 L418.8 1014.4 L418.9 1012.4 L419.1 1010.4 L419.2 1008.4 L419.3 1006.4 L419.4 1004.4 L419.6 1002.3 L419.7 1000.3 L419.8 998.3 L419.9 996.3 L420.0 994.3 L420.1 992.3 L420.2 990.3 L420.3 988.3 L420.4 986.3 L420.5 984.3 L420.6 982.2 L420.7 980.2 L420.8 978.2 L420.9 976.2 L421.0 974.2 L421.1 972.2 L421.1 970.2 L421.2 968.2 L421.3 966.1 L421.4 964.1 L421.5 962.1 L421.5 960.1 L421.6 958.1 L421.7 956.1 L421.8 954.1 L421.8 952.1 L421.9 950.0 L422.0 948.0 L422.0 946.0 L422.1 944.0 L422.2 942.0 L422.2 940.0 L422.3 938.0 L422.4 936.0 L422.5 934.0 L422.5 931.9 L422.6 929.9 L422.7 927.9 L422.7 925.9 L422.8 923.9 L422.9 921.9 L422.9 919.9 L423.0 917.9 L423.1 915.9 L423.2 913.9 L423.2 911.8 L423.3 909.8 L423.4 907.8 L423.5 905.8 L423.6 903.8 L423.6 901.8 L423.7 899.8 L423.8 897.8 L423.9 895.8 L424.0 893.8 L424.1 891.8 L424.2 889.8 L424.3 887.8 L424.4 885.8 L424.5 883.8 L424.6 881.8 L424.7 879.8 L424.8 877.8 L424.9 875.8 L425.0 873.8 L425.1 871.8 L425.3 869.8 L425.2 867.7 L430.5 867.0 L430.5 1153.1 L428.3 1159.4 L427.1 1160.7 L426.1 1162.6 L425.2 1164.6 L424.2 1166.5 L423.2 1168.4 L422.1 1170.2 L421.0 1172.1 L419.9 1173.8 L418.7 1175.6 L417.5 1177.3 L416.3 1178.9 L415.1 1180.6 L413.8 1182.2 L412.5 1183.7 L411.2 1185.3 L409.8 1186.8 L408.4 1188.2 L407.0 1189.7 L405.5 1191.0 L404.1 1192.4 L402.6 1193.7 L401.1 1195.0 L399.5 1196.3 L398.0 1197.5 L396.4 1198.7 L394.8 1199.9 L393.1 1201.0 L391.5 1202.1 L389.8 1203.2 L388.1 1204.2 L386.4 1205.2 L384.7 1206.2 L382.9 1207.2 L381.1 1208.1 L379.3 1209.0 L377.5 1209.8 L375.7 1210.7 L373.9 1211.5 L372.0 1212.2 L370.2 1213.0 L368.3 1213.7 L366.4 1214.4 L364.5 1215.0 L362.5 1215.7 L360.6 1216.2 L358.7 1216.8 L356.7 1217.4 L354.7 1217.9 L352.7 1218.4 L350.8 1218.9 L348.8 1219.3 L346.8 1219.7 L344.8 1220.1 L342.7 1220.5 L340.7 1220.9 L338.7 1221.2 L336.6 1221.5 L334.6 1221.8 L332.6 1222.1 L330.5 1222.3 L328.5 1222.5 L326.4 1222.8 L324.4 1222.9 L322.3 1223.1 L320.3 1223.3 L318.2 1223.4 L316.2 1223.6 L314.1 1223.7 L312.1 1223.8 L310.1 1223.8 L308.0 1223.9 L306.0 1224.0 L304.0 1224.0 L302.0 1224.0 L300.0 1224.5Z"/>
<path d="M560.0 1257.0 L562.0 1256.8 L563.9 1256.4 L565.9 1256.0 L567.8 1255.7 L569.7 1255.3 L571.7 1254.9 L573.6 1254.5 L575.5 1254.1 L577.5 1253.8 L579.5 1253.4 L581.4 1253.0 L583.4 1252.7 L585.4 1252.3 L587.4 1251.9 L589.3 1251.6 L591.3 1251.2 L593.3 1250.9 L595.3 1250.5 L597.3 1250.2 L599.3 1249.9 L601.3 1249.5 L603.3 1249.2 L605.3 1248.9 L607.3 1248.5 L609.3 1248.2 L611.3 1247.9 L613.3 1247.6 L615.3 1247.2 L617.4 1246.9 L619.4 1246.6 L621.4 1246.3 L623.4 1246.0 L625.4 1245.7 L627.4 1245.4 L629.4 1245.1 L631.4 1244.8 L633.4 1244.5 L635.4 1244.2 L637.4 1243.9 L639.4 1243.6 L641.4 1243.3 L643.4 1243.0 L645.4 1242.7 L647.4 1242.4 L649.4 1242.1 L651.4 1241.9 L653.4 1241.6 L655.4 1241.3 L657.4 1241.0 L659.3 1240.7 L661.3 1240.5 L663.3 1240.2 L665.2 1239.9 L667.2 1239.6 L669.2 1239.4 L671.2 1239.1 L673.1 1238.8 L675.1 1238.6 L677.0 1238.3 L679.0 1238.0 L681.0 1237.8 L682.9 1237.5 L684.9 1237.2 L686.8 1237.0 L688.8 1236.7 L690.8 1236.4 L692.7 1236.2 L694.7 1235.9 L696.6 1235.6 L698.6 1235.4 L700.5 1235.1 L702.5 1234.8 L704.4 1234.6 L706.4 1234.3 L708.3 1234.0 L710.3 1233.8 L712.3 1233.5 L714.2 1233.2 L716.2 1233.0 L718.1 1232.7 L720.1 1232.4 L722.0 1232.1 L724.0 1231.9 L726.0 1231.6 L727.9 1231.3 L729.9 1231.0 L731.8 1230.7 L733.8 1230.5 L735.8 1230.2 L737.8 1229.9 L739.7 1229.6 L741.7 1229.3 L743.7 1229.0 L745.6 1228.7 L747.6 1228.4 L749.6 1228.1 L751.6 1227.8 L753.6 1227.5 L755.6 1227.2 L757.6 1226.9 L759.6 1226.6 L761.6 1226.2 L763.6 1225.9 L765.6 1225.6 L767.6 1225.3 L769.6 1224.9 L771.6 1224.6 L773.6 1224.3 L775.6 1223.9 L777.6 1223.6 L779.7 1223.3 L781.7 1222.9 L783.7 1222.5 L785.8 1222.2 L787.8 1221.8 L789.8 1221.4 L791.9 1221.1 L793.9 1220.7 L795.9 1220.3 L798.0 1219.9 L800.0 1219.5 L802.0 1219.0 L804.0 1218.6 L806.1 1218.2 L808.1 1217.7 L810.1 1217.3 L812.1 1216.8 L814.1 1216.3 L816.1 1215.8 L818.1 1215.3 L820.1 1214.8 L822.1 1214.3 L824.1 1213.8 L826.1 1213.2 L828.0 1212.6 L830.0 1212.1 L831.9 1211.5 L833.9 1210.9 L835.8 1210.2 L837.7 1209.6 L839.7 1208.9 L841.6 1208.3 L843.5 1207.6 L845.3 1206.9 L847.2 1206.1 L849.1 1205.4 L850.9 1204.6 L852.7 1203.8 L854.6 1203.0 L856.4 1202.2 L858.2 1201.4 L859.9 1200.5 L861.7 1199.6 L863.4 1198.7 L865.2 1197.8 L866.9 1196.8 L868.6 1195.9 L870.3 1194.9 L871.9 1193.9 L873.6 1192.8 L875.2 1191.8 L876.8 1190.7 L878.4 1189.5 L880.0 1188.4 L881.5 1187.2 L883.1 1186.0 L884.6 1184.8 L886.1 1183.6 L887.5 1182.3 L889.0 1181.0 L890.4 1179.7 L891.8 1178.3 L893.2 1176.9 L894.5 1175.5 L895.8 1174.0 L897.1 1172.6 L898.4 1171.1 L899.7 1169.5 L900.9 1167.9 L902.1 1166.3 L903.3 1164.7 L904.4 1163.1 L905.5 1161.4 L906.6 1159.7 L907.7 1158.0 L908.8 1156.2 L909.8 1154.5 L910.8 1152.7 L911.8 1150.9 L912.7 1149.0 L913.6 1147.2 L914.5 1145.4 L915.4 1143.5 L916.2 1141.6 L917.1 1139.7 L917.9 1137.8 L918.6 1135.9 L919.4 1134.0 L920.1 1132.1 L920.8 1130.2 L921.5 1128.3 L922.1 1126.3 L922.8 1124.4 L923.4 1122.5 L923.9 1120.5 L924.5 1118.6 L925.0 1116.6 L925.5 1114.7 L926.0 1112.7 L926.5 1110.8 L927.0 1108.8 L927.4 1106.8 L927.8 1104.9 L928.2 1102.9 L928.6 1100.9 L929.0 1099.0 L929.3 1097.0 L929.7 1095.0 L930.0 1093.0 L930.3 1091.1 L930.6 1089.1 L930.9 1087.1 L931.2 1085.1 L931.4 1083.1 L931.7 1081.1 L931.9 1079.1 L932.1 1077.2 L932.4 1075.2 L932.6 1073.2 L932.8 1071.2 L933.0 1069.2 L933.2 1067.2 L933.4 1065.2 L933.5 1063.2 L933.7 1061.2 L933.9 1059.2 L934.1 1057.2 L934.2 1055.2 L934.4 1053.2 L934.5 1051.2 L934.7 1049.2 L934.9 1047.2 L935.0 1045.2 L935.2 1043.2 L935.4 1041.2 L935.5 1039.2 L935.7 1037.2 L935.8 1035.2 L936.0 1033.2 L936.2 1031.2 L936.4 1029.2 L936.5 1027.2 L936.7 1025.2 L936.9 1023.2 L937.1 1021.2 L937.2 1019.2 L937.4 1017.1 L937.6 1015.1 L937.8 1013.1 L937.9 1011.1 L938.1 1009.1 L938.3 1007.1 L938.5 1005.1 L938.7 1003.1 L938.9 1001.1 L939.0 999.1 L939.2 997.1 L939.4 995.1 L939.6 993.1 L939.8 991.1 L939.9 989.1 L940.1 987.1 L940.3 985.1 L940.5 983.1 L940.7 981.1 L940.9 979.1 L941.0 977.1 L941.2 975.1 L941.4 973.1 L941.6 971.1 L941.7 969.1 L941.9 967.1 L942.1 965.1 L942.3 963.1 L942.4 961.1 L942.6 959.1 L942.8 957.1 L943.0 955.1 L943.1 953.1 L943.3 951.1 L943.4 949.1 L943.6 947.1 L943.8 945.1 L943.9 943.1 L944.1 941.1 L944.2 939.1 L944.4 937.1 L944.5 935.1 L944.7 933.1 L944.8 931.1 L945.0 929.1 L945.1 927.1 L945.3 925.1 L945.4 923.1 L945.5 921.1 L945.7 919.1 L945.8 917.1 L945.9 915.1 L946.0 913.1 L946.2 911.1 L946.3 909.1 L946.4 907.1 L946.5 905.0 L946.6 903.0 L946.7 901.0 L946.8 899.0 L946.9 897.0 L947.0 895.0 L947.1 893.0 L947.2 891.0 L947.3 889.0 L947.3 887.0 L947.4 885.0 L947.5 883.0 L947.5 881.0 L947.6 879.0 L947.7 877.0 L947.7 874.9 L947.8 872.9 L947.8 870.9 L947.8 868.9 L948.5 867.0 L951.8 867.0 L951.8 1248.2 L945.0 1252.5 L943.2 1253.9 L941.2 1254.1 L939.2 1254.3 L937.2 1254.5 L935.2 1254.7 L933.2 1254.8 L931.2 1255.0 L929.2 1255.2 L927.2 1255.3 L925.2 1255.5 L923.2 1255.6 L921.1 1255.8 L919.1 1255.9 L917.1 1256.0 L915.1 1256.2 L913.1 1256.3 L911.1 1256.4 L909.1 1256.6 L907.1 1256.7 L905.1 1256.8 L903.1 1256.9 L901.1 1257.0 L899.1 1257.1 L897.1 1257.2 L895.0 1257.3 L893.0 1257.4 L891.0 1257.5 L889.0 1257.6 L887.0 1257.6 L885.0 1257.7 L883.0 1257.8 L881.0 1257.9 L878.9 1257.9 L876.9 1258.0 L874.9 1258.1 L872.9 1258.1 L870.9 1258.2 L868.9 1258.2 L866.9 1258.3 L864.9 1258.3 L862.8 1258.4 L860.8 1258.4 L858.8 1258.5 L856.8 1258.5 L854.8 1258.5 L852.8 1258.6 L850.7 1258.6 L848.7 1258.6 L846.7 1258.7 L844.7 1258.7 L842.7 1258.7 L840.7 1258.7 L838.6 1258.8 L836.6 1258.8 L834.6 1258.8 L832.6 1258.8 L830.6 1258.8 L828.6 1258.8 L826.5 1258.8 L824.5 1258.8 L822.5 1258.8 L820.5 1258.8 L818.5 1258.8 L816.4 1258.8 L814.4 1258.8 L812.4 1258.8 L810.4 1258.8 L808.4 1258.8 L806.3 1258.8 L804.3 1258.8 L802.3 1258.8 L800.3 1258.8 L798.3 1258.8 L796.2 1258.8 L794.2 1258.8 L792.2 1258.8 L790.2 1258.8 L788.2 1258.8 L786.1 1258.7 L784.1 1258.7 L782.1 1258.7 L780.1 1258.7 L778.1 1258.7 L776.0 1258.7 L774.0 1258.6 L772.0 1258.6 L770.0 1258.6 L768.0 1258.6 L765.9 1258.6 L763.9 1258.6 L761.9 1258.5 L759.9 1258.5 L757.9 1258.5 L755.8 1258.5 L753.8 1258.4 L751.8 1258.4 L749.8 1258.4 L747.8 1258.4 L745.7 1258.4 L743.7 1258.3 L741.7 1258.3 L739.7 1258.3 L737.6 1258.3 L735.6 1258.2 L733.6 1258.2 L731.6 1258.2 L729.6 1258.2 L727.5 1258.1 L725.5 1258.1 L723.5 1258.1 L721.5 1258.1 L719.5 1258.0 L717.4 1258.0 L715.4 1258.0 L713.4 1258.0 L711.4 1257.9 L709.4 1257.9 L707.3 1257.9 L705.3 1257.9 L703.3 1257.9 L701.3 1257.8 L699.3 1257.8 L697.2 1257.8 L695.2 1257.8 L693.2 1257.7 L691.2 1257.7 L689.1 1257.7 L687.1 1257.7 L685.1 1257.7 L683.1 1257.6 L681.1 1257.6 L679.0 1257.6 L677.0 1257.6 L675.0 1257.6 L673.0 1257.6 L671.0 1257.5 L668.9 1257.5 L666.9 1257.5 L664.9 1257.5 L662.9 1257.5 L660.9 1257.5 L658.8 1257.5 L656.8 1257.5 L654.8 1257.4 L652.8 1257.4 L650.8 1257.4 L648.8 1257.4 L646.7 1257.4 L644.7 1257.4 L642.7 1257.4 L640.7 1257.4 L638.7 1257.4 L636.6 1257.4 L634.6 1257.4 L632.6 1257.4 L630.6 1257.4 L628.6 1257.4 L626.5 1257.4 L624.5 1257.4 L622.5 1257.4 L620.5 1257.4 L618.5 1257.4 L616.5 1257.4 L614.4 1257.4 L612.4 1257.5 L610.4 1257.5 L608.4 1257.5 L606.4 1257.5 L604.4 1257.5 L602.3 1257.5 L600.3 1257.6 L598.3 1257.6 L596.3 1257.6 L594.3 1257.6 L592.3 1257.7 L590.2 1257.7 L588.2 1257.7 L586.2 1257.7 L584.2 1257.8 L582.2 1257.8 L580.2 1257.9 L578.2 1257.9 L576.1 1257.9 L574.1 1258.0 L572.1 1258.0 L570.1 1258.1 L568.1 1258.1 L566.1 1258.2 L564.1 1258.2 L562.0 1258.3 L560.0 1258.0Z"/>
<path d="M1016.0 1261.0 L1017.7 1259.7 L1019.5 1259.0 L1021.4 1258.3 L1023.3 1257.7 L1025.1 1257.0 L1027.0 1256.4 L1028.9 1255.7 L1030.8 1255.1 L1032.7 1254.5 L1034.6 1253.9 L1036.5 1253.4 L1038.4 1252.8 L1040.3 1252.3 L1042.2 1251.7 L1044.2 1251.2 L1046.1 1250.7 L1048.0 1250.1 L1049.9 1249.6 L1051.9 1249.2 L1053.8 1248.7 L1055.8 1248.2 L1057.7 1247.8 L1059.7 1247.3 L1061.6 1246.9 L1063.6 1246.4 L1065.6 1246.0 L1067.5 1245.6 L1069.5 1245.2 L1071.5 1244.8 L1073.4 1244.4 L1075.4 1244.0 L1077.4 1243.6 L1079.4 1243.3 L1081.4 1242.9 L1083.4 1242.6 L1085.3 1242.2 L1087.3 1241.9 L1089.3 1241.5 L1091.3 1241.2 L1093.3 1240.9 L1095.3 1240.6 L1097.3 1240.3 L1099.3 1240.0 L1101.3 1239.7 L1103.3 1239.4 L1105.3 1239.1 L1107.3 1238.8 L1109.3 1238.5 L1111.3 1238.3 L1113.3 1238.0 L1115.3 1237.7 L1117.3 1237.5 L1119.3 1237.2 L1121.3 1236.9 L1123.3 1236.7 L1125.3 1236.4 L1127.3 1236.2 L1129.3 1235.9 L1131.3 1235.7 L1133.3 1235.5 L1135.3 1235.2 L1137.3 1235.0 L1139.3 1234.7 L1141.3 1234.5 L1143.3 1234.3 L1145.3 1234.0 L1147.3 1233.8 L1149.3 1233.6 L1151.3 1233.3 L1153.3 1233.1 L1155.3 1232.9 L1157.2 1232.7 L1159.2 1232.4 L1161.2 1232.2 L1163.2 1232.0 L1165.2 1231.7 L1167.1 1231.5 L1169.1 1231.3 L1171.1 1231.1 L1173.1 1230.8 L1175.0 1230.6 L1177.0 1230.4 L1179.0 1230.2 L1181.0 1229.9 L1182.9 1229.7 L1184.9 1229.5 L1186.9 1229.3 L1188.8 1229.0 L1190.8 1228.8 L1192.8 1228.6 L1194.7 1228.4 L1196.7 1228.1 L1198.7 1227.9 L1200.7 1227.7 L1202.6 1227.5 L1204.6 1227.2 L1206.6 1227.0 L1208.5 1226.8 L1210.5 1226.6 L1212.5 1226.3 L1214.4 1226.1 L1216.4 1225.9 L1218.4 1225.7 L1220.3 1225.5 L1222.3 1225.2 L1224.3 1225.0 L1226.3 1224.8 L1228.2 1224.6 L1230.2 1224.3 L1232.2 1224.1 L1234.2 1223.9 L1236.1 1223.7 L1238.1 1223.4 L1240.1 1223.2 L1242.1 1223.0 L1244.0 1222.8 L1246.0 1222.5 L1248.0 1222.3 L1250.0 1222.1 L1252.0 1221.9 L1254.0 1221.6 L1256.0 1221.4 L1258.0 1221.2 L1259.9 1221.0 L1261.9 1220.7 L1263.9 1220.5 L1265.9 1220.3 L1267.9 1220.1 L1269.9 1219.8 L1271.9 1219.6 L1274.0 1219.4 L1276.0 1219.1 L1278.0 1218.9 L1280.0 1218.7 L1282.0 1218.4 L1284.0 1218.2 L1286.0 1218.0 L1288.1 1217.7 L1290.1 1217.5 L1292.1 1217.3 L1294.1 1217.0 L1296.2 1216.8 L1298.2 1216.5 L1300.2 1216.3 L1302.3 1216.0 L1304.3 1215.8 L1306.3 1215.5 L1308.4 1215.3 L1310.4 1215.0 L1312.4 1214.7 L1314.4 1214.4 L1316.5 1214.1 L1318.5 1213.8 L1320.5 1213.5 L1322.5 1213.2 L1324.5 1212.8 L1326.6 1212.5 L1328.6 1212.1 L1330.6 1211.8 L1332.6 1211.4 L1334.6 1211.0 L1336.6 1210.6 L1338.6 1210.2 L1340.6 1209.8 L1342.5 1209.3 L1344.5 1208.9 L1346.5 1208.4 L1348.5 1207.9 L1350.4 1207.4 L1352.4 1206.9 L1354.3 1206.4 L1356.3 1205.8 L1358.2 1205.3 L1360.1 1204.7 L1362.0 1204.1 L1364.0 1203.5 L1365.9 1202.8 L1367.8 1202.2 L1369.6 1201.5 L1371.5 1200.8 L1373.4 1200.0 L1375.2 1199.3 L1377.1 1198.5 L1378.9 1197.7 L1380.8 1196.9 L1382.6 1196.1 L1384.4 1195.2 L1386.2 1194.3 L1388.0 1193.4 L1389.7 1192.5 L1391.5 1191.5 L1393.2 1190.6 L1395.0 1189.5 L1396.7 1188.5 L1398.4 1187.5 L1400.1 1186.4 L1401.7 1185.3 L1403.4 1184.1 L1405.0 1183.0 L1406.6 1181.8 L1408.2 1180.6 L1409.8 1179.4 L1411.3 1178.1 L1412.8 1176.9 L1414.3 1175.6 L1415.8 1174.3 L1417.2 1172.9 L1418.6 1171.6 L1420.0 1170.2 L1421.4 1168.8 L1422.7 1167.3 L1424.0 1165.9 L1425.3 1164.4 L1426.5 1162.9 L1427.7 1161.4 L1428.9 1159.8 L1430.0 1158.3 L1431.1 1156.7 L1432.2 1155.1 L1433.2 1153.4 L1434.2 1151.8 L1435.2 1150.1 L1436.2 1148.4 L1437.1 1146.7 L1437.9 1145.0 L1438.8 1143.2 L1439.6 1141.5 L1440.4 1139.7 L1441.2 1137.9 L1441.9 1136.1 L1442.6 1134.3 L1443.3 1132.4 L1444.0 1130.6 L1444.6 1128.7 L1445.2 1126.8 L1445.8 1124.9 L1446.4 1123.0 L1447.0 1121.1 L1447.5 1119.2 L1448.0 1117.2 L1448.5 1115.3 L1449.0 1113.3 L1449.4 1111.4 L1449.9 1109.4 L1450.3 1107.4 L1450.7 1105.4 L1451.1 1103.4 L1451.5 1101.4 L1451.9 1099.4 L1452.2 1097.4 L1452.6 1095.4 L1452.9 1093.4 L1453.2 1091.4 L1453.5 1089.3 L1453.8 1087.3 L1454.1 1085.3 L1454.4 1083.3 L1454.7 1081.2 L1455.0 1079.2 L1455.2 1077.2 L1455.5 1075.2 L1455.8 1073.2 L1456.0 1071.1 L1456.3 1069.1 L1456.5 1067.1 L1456.7 1065.1 L1457.0 1063.1 L1457.2 1061.0 L1457.4 1059.0 L1457.6 1057.0 L1457.9 1055.0 L1458.1 1053.0 L1458.3 1051.0 L1458.5 1049.0 L1458.7 1046.9 L1458.9 1044.9 L1459.1 1042.9 L1459.3 1040.9 L1459.4 1038.9 L1459.6 1036.9 L1459.8 1034.9 L1460.0 1032.9 L1460.1 1030.9 L1460.3 1028.9 L1460.5 1026.9 L1460.6 1024.9 L1460.8 1022.9 L1460.9 1020.9 L1461.1 1018.9 L1461.2 1016.9 L1461.4 1014.9 L1461.5 1012.9 L1461.7 1010.9 L1461.8 1008.9 L1461.9 1006.9 L1462.0 1004.9 L1462.2 1002.9 L1462.3 1000.9 L1462.4 998.9 L1462.5 996.9 L1462.7 994.9 L1462.8 992.9 L1462.9 990.9 L1463.0 988.9 L1463.1 986.9 L1463.2 984.9 L1463.3 982.9 L1463.4 980.9 L1463.5 978.9 L1463.6 976.9 L1463.7 974.9 L1463.8 972.9 L1463.9 971.0 L1464.0 969.0 L1464.1 967.0 L1464.2 965.0 L1464.3 963.0 L1464.4 961.0 L1464.5 959.0 L1464.6 957.0 L1464.7 955.0 L1464.8 953.0 L1464.9 951.0 L1465.0 949.0 L1465.1 947.0 L1465.2 945.0 L1465.2 943.0 L1465.3 941.0 L1465.4 939.0 L1465.5 937.0 L1465.6 935.1 L1465.7 933.1 L1465.8 931.1 L1465.9 929.1 L1466.0 927.1 L1466.1 925.1 L1466.2 923.1 L1466.2 921.1 L1466.3 919.1 L1466.4 917.1 L1466.5 915.1 L1466.6 913.1 L1466.7 911.1 L1466.8 909.1 L1466.9 907.1 L1467.0 905.1 L1467.1 903.1 L1467.2 901.1 L1467.3 899.1 L1467.5 897.1 L1467.6 895.1 L1467.7 893.1 L1467.8 891.0 L1467.9 889.0 L1468.0 887.0 L1468.1 885.0 L1468.3 883.0 L1468.4 881.0 L1468.5 879.0 L1468.6 877.0 L1468.8 875.0 L1468.9 873.0 L1469.0 870.9 L1469.2 868.9 L1469.5 867.0 L1473.7 867.0 L1473.7 1261.0Z"/>
<path d="M1515.0 1261.0 L1516.9 1260.4 L1518.7 1259.5 L1520.6 1258.6 L1522.4 1257.7 L1524.2 1256.9 L1526.1 1256.1 L1527.9 1255.2 L1529.8 1254.4 L1531.6 1253.7 L1533.5 1252.9 L1535.3 1252.2 L1537.2 1251.4 L1539.1 1250.7 L1541.0 1250.0 L1542.9 1249.4 L1544.8 1248.7 L1546.7 1248.1 L1548.6 1247.4 L1550.5 1246.8 L1552.4 1246.2 L1554.3 1245.7 L1556.2 1245.1 L1558.1 1244.6 L1560.1 1244.0 L1562.0 1243.5 L1563.9 1243.0 L1565.9 1242.5 L1567.8 1242.0 L1569.8 1241.6 L1571.7 1241.1 L1573.7 1240.7 L1575.7 1240.2 L1577.6 1239.8 L1579.6 1239.4 L1581.6 1239.0 L1583.5 1238.6 L1585.5 1238.3 L1587.5 1237.9 L1589.5 1237.6 L1591.4 1237.2 L1593.4 1236.9 L1595.4 1236.6 L1597.4 1236.2 L1599.4 1235.9 L1601.4 1235.6 L1603.4 1235.3 L1605.4 1235.1 L1607.4 1234.8 L1609.4 1234.5 L1611.4 1234.3 L1613.4 1234.0 L1615.4 1233.7 L1617.4 1233.5 L1619.4 1233.3 L1621.4 1233.0 L1623.4 1232.8 L1625.4 1232.6 L1627.4 1232.4 L1629.5 1232.2 L1631.5 1231.9 L1633.5 1231.7 L1635.5 1231.5 L1637.5 1231.3 L1639.5 1231.1 L1641.5 1231.0 L1643.5 1230.8 L1645.5 1230.6 L1647.6 1230.4 L1649.6 1230.2 L1651.6 1230.0 L1653.6 1229.8 L1655.6 1229.6 L1657.6 1229.5 L1659.6 1229.3 L1661.6 1229.1 L1663.6 1228.9 L1665.6 1228.7 L1667.6 1228.5 L1669.6 1228.3 L1671.6 1228.1 L1673.6 1228.0 L1675.6 1227.8 L1677.6 1227.6 L1679.6 1227.4 L1681.5 1227.2 L1683.5 1227.0 L1685.5 1226.8 L1687.5 1226.6 L1689.5 1226.4 L1691.5 1226.2 L1693.5 1226.0 L1695.4 1225.8 L1697.4 1225.6 L1699.4 1225.4 L1701.4 1225.2 L1703.4 1225.0 L1705.3 1224.8 L1707.3 1224.6 L1709.3 1224.4 L1711.3 1224.1 L1713.2 1223.9 L1715.2 1223.7 L1717.2 1223.5 L1719.2 1223.3 L1721.2 1223.1 L1723.1 1222.9 L1725.1 1222.7 L1727.1 1222.5 L1729.1 1222.3 L1731.0 1222.1 L1733.0 1221.9 L1735.0 1221.7 L1737.0 1221.5 L1739.0 1221.3 L1740.9 1221.1 L1742.9 1220.9 L1744.9 1220.6 L1746.9 1220.4 L1748.9 1220.2 L1750.8 1220.0 L1752.8 1219.8 L1754.8 1219.6 L1756.8 1219.4 L1758.8 1219.2 L1760.8 1219.0 L1762.8 1218.8 L1764.8 1218.6 L1766.8 1218.5 L1768.8 1218.3 L1770.7 1218.1 L1772.7 1217.9 L1774.7 1217.7 L1776.7 1217.5 L1778.7 1217.3 L1780.8 1217.1 L1782.8 1216.9 L1784.8 1216.8 L1786.8 1216.6 L1788.8 1216.4 L1790.8 1216.2 L1792.8 1216.0 L1794.8 1215.9 L1796.9 1215.7 L1798.9 1215.5 L1800.9 1215.3 L1802.9 1215.2 L1805.0 1215.0 L1807.0 1214.8 L1809.0 1214.7 L1811.1 1214.5 L1813.1 1214.4 L1815.2 1214.2 L1817.2 1214.0 L1819.3 1213.9 L1821.3 1213.7 L1823.3 1213.5 L1825.4 1213.4 L1827.4 1213.2 L1829.5 1213.0 L1831.5 1212.8 L1833.6 1212.6 L1835.6 1212.4 L1837.7 1212.2 L1839.7 1212.0 L1841.7 1211.8 L1843.8 1211.6 L1845.8 1211.4 L1847.8 1211.1 L1849.9 1210.9 L1851.9 1210.6 L1853.9 1210.4 L1855.9 1210.1 L1857.9 1209.8 L1859.9 1209.5 L1862.0 1209.2 L1864.0 1208.9 L1866.0 1208.5 L1867.9 1208.2 L1869.9 1207.8 L1871.9 1207.4 L1873.9 1207.0 L1875.9 1206.6 L1877.8 1206.2 L1879.8 1205.7 L1881.7 1205.3 L1883.7 1204.8 L1885.6 1204.3 L1887.5 1203.8 L1889.5 1203.2 L1891.4 1202.7 L1893.3 1202.1 L1895.2 1201.5 L1897.1 1200.9 L1898.9 1200.2 L1900.8 1199.6 L1902.7 1198.9 L1904.5 1198.2 L1906.3 1197.4 L1908.2 1196.7 L1910.0 1195.9 L1911.8 1195.1 L1913.6 1194.2 L1915.4 1193.4 L1917.1 1192.5 L1918.9 1191.6 L1920.7 1190.6 L1922.4 1189.6 L1924.1 1188.6 L1925.8 1187.6 L1927.5 1186.5 L1929.2 1185.5 L1930.8 1184.3 L1932.5 1183.2 L1934.1 1182.0 L1935.7 1180.8 L1937.3 1179.6 L1938.8 1178.3 L1940.3 1177.0 L1941.8 1175.7 L1943.3 1174.4 L1944.8 1173.0 L1946.2 1171.6 L1947.6 1170.2 L1948.9 1168.8 L1950.3 1167.3 L1951.6 1165.8 L1952.8 1164.2 L1954.1 1162.7 L1955.3 1161.1 L1956.4 1159.5 L1957.5 1157.9 L1958.6 1156.2 L1959.7 1154.5 L1960.7 1152.8 L1961.7 1151.1 L1962.7 1149.4 L1963.6 1147.6 L1964.5 1145.8 L1965.3 1144.1 L1966.2 1142.3 L1967.0 1140.4 L1967.8 1138.6 L1968.5 1136.8 L1969.2 1134.9 L1969.9 1133.1 L1970.6 1131.2 L1971.2 1129.4 L1971.9 1127.5 L1972.4 1125.6 L1973.0 1123.7 L1973.6 1121.8 L1974.1 1119.9 L1974.6 1117.9 L1975.1 1116.0 L1975.5 1114.1 L1976.0 1112.1 L1976.4 1110.2 L1976.8 1108.2 L1977.2 1106.2 L1977.5 1104.3 L1977.9 1102.3 L1978.2 1100.3 L1978.5 1098.3 L1978.8 1096.3 L1979.1 1094.3 L1979.4 1092.3 L1979.6 1090.3 L1979.8 1088.3 L1980.1 1086.2 L1980.3 1084.2 L1980.5 1082.2 L1980.7 1080.2 L1980.8 1078.1 L1981.0 1076.1 L1981.2 1074.0 L1981.3 1072.0 L1981.5 1070.0 L1981.6 1067.9 L1981.7 1065.9 L1981.8 1063.8 L1981.9 1061.8 L1982.0 1059.7 L1982.1 1057.7 L1982.2 1055.6 L1982.3 1053.6 L1982.4 1051.5 L1982.5 1049.5 L1982.6 1047.4 L1982.7 1045.4 L1982.8 1043.3 L1982.8 1041.3 L1982.9 1039.2 L1983.0 1037.2 L1983.1 1035.1 L1983.2 1033.1 L1983.2 1031.1 L1983.3 1029.0 L1983.4 1027.0 L1983.5 1025.0 L1983.6 1022.9 L1983.7 1020.9 L1983.8 1018.9 L1983.9 1016.9 L1984.0 1014.9 L1984.1 1012.9 L1984.2 1010.9 L1984.3 1008.8 L1984.4 1006.8 L1984.5 1004.8 L1984.7 1002.8 L1984.8 1000.8 L1984.9 998.8 L1985.0 996.8 L1985.1 994.8 L1985.2 992.9 L1985.4 990.9 L1985.5 988.9 L1985.6 986.9 L1985.7 984.9 L1985.8 982.9 L1986.0 980.9 L1986.1 978.9 L1986.2 976.9 L1986.3 975.0 L1986.5 973.0 L1986.6 971.0 L1986.7 969.0 L1986.8 967.0 L1987.0 965.0 L1987.1 963.1 L1987.2 961.1 L1987.4 959.1 L1987.5 957.1 L1987.6 955.1 L1987.7 953.2 L1987.9 951.2 L1988.0 949.2 L1988.1 947.2 L1988.2 945.2 L1988.4 943.2 L1988.5 941.3 L1988.6 939.3 L1988.7 937.3 L1988.8 935.3 L1989.0 933.3 L1989.1 931.3 L1989.2 929.3 L1989.3 927.4 L1989.4 925.4 L1989.5 923.4 L1989.6 921.4 L1989.8 919.4 L1989.9 917.4 L1990.0 915.4 L1990.1 913.4 L1990.2 911.4 L1990.3 909.4 L1990.4 907.4 L1990.5 905.4 L1990.6 903.4 L1990.7 901.4 L1990.8 899.4 L1990.8 897.3 L1990.9 895.3 L1991.0 893.3 L1991.1 891.3 L1991.2 889.3 L1991.2 887.2 L1991.3 885.2 L1991.4 883.2 L1991.5 881.1 L1991.5 879.1 L1991.6 877.0 L1991.6 875.0 L1991.7 872.9 L1991.7 870.9 L1991.8 868.8 L1992.5 867.0 L1996.4 867.0 L1996.4 1261.0Z"/>
<path d="M2026.0 1261.0 L2027.8 1260.3 L2029.6 1259.4 L2031.5 1258.4 L2033.3 1257.5 L2035.1 1256.6 L2036.9 1255.7 L2038.8 1254.8 L2040.6 1253.9 L2042.4 1253.1 L2044.3 1252.2 L2046.1 1251.4 L2048.0 1250.6 L2049.9 1249.8 L2051.7 1249.1 L2053.6 1248.3 L2055.5 1247.6 L2057.3 1246.9 L2059.2 1246.2 L2061.1 1245.5 L2063.0 1244.8 L2064.9 1244.1 L2066.8 1243.5 L2068.7 1242.8 L2070.6 1242.2 L2072.5 1241.6 L2074.4 1241.0 L2076.3 1240.4 L2078.3 1239.9 L2080.2 1239.3 L2082.1 1238.7 L2084.0 1238.2 L2086.0 1237.7 L2087.9 1237.2 L2089.8 1236.7 L2091.8 1236.2 L2093.7 1235.7 L2095.7 1235.2 L2097.6 1234.8 L2099.6 1234.3 L2101.5 1233.9 L2103.5 1233.5 L2105.4 1233.0 L2107.4 1232.6 L2109.3 1232.2 L2111.3 1231.8 L2113.3 1231.5 L2115.2 1231.1 L2117.2 1230.7 L2119.2 1230.4 L2121.2 1230.0 L2123.1 1229.7 L2125.1 1229.3 L2127.1 1229.0 L2129.1 1228.7 L2131.0 1228.4 L2133.0 1228.0 L2135.0 1227.7 L2137.0 1227.4 L2139.0 1227.1 L2141.0 1226.9 L2143.0 1226.6 L2144.9 1226.3 L2146.9 1226.0 L2148.9 1225.8 L2150.9 1225.5 L2152.9 1225.3 L2154.9 1225.0 L2156.9 1224.8 L2158.9 1224.5 L2160.9 1224.3 L2162.9 1224.1 L2164.9 1223.8 L2166.9 1223.6 L2168.9 1223.4 L2170.9 1223.2 L2172.9 1223.0 L2174.9 1222.8 L2176.9 1222.6 L2178.9 1222.4 L2180.9 1222.2 L2182.9 1222.0 L2184.9 1221.9 L2186.9 1221.7 L2188.9 1221.5 L2191.0 1221.3 L2193.0 1221.2 L2195.0 1221.0 L2197.0 1220.9 L2199.0 1220.7 L2201.0 1220.5 L2203.0 1220.4 L2205.0 1220.2 L2207.1 1220.1 L2209.1 1220.0 L2211.1 1219.8 L2213.1 1219.7 L2215.1 1219.6 L2217.1 1219.4 L2219.2 1219.3 L2221.2 1219.2 L2223.2 1219.0 L2225.2 1218.9 L2227.2 1218.8 L2229.3 1218.7 L2231.3 1218.6 L2233.3 1218.4 L2235.3 1218.3 L2237.3 1218.2 L2239.4 1218.1 L2241.4 1218.0 L2243.4 1217.9 L2245.4 1217.8 L2247.4 1217.7 L2249.5 1217.5 L2251.5 1217.4 L2253.5 1217.3 L2255.5 1217.2 L2257.6 1217.1 L2259.6 1217.0 L2261.6 1216.9 L2263.6 1216.8 L2265.7 1216.7 L2267.7 1216.6 L2269.7 1216.5 L2271.7 1216.4 L2273.7 1216.3 L2275.8 1216.2 L2277.8 1216.1 L2279.8 1216.0 L2281.8 1215.8 L2283.9 1215.7 L2285.9 1215.6 L2287.9 1215.5 L2289.9 1215.4 L2292.0 1215.3 L2294.0 1215.2 L2296.0 1215.1 L2298.0 1214.9 L2300.0 1214.8 L2302.1 1214.7 L2304.1 1214.6 L2306.1 1214.4 L2308.1 1214.3 L2310.1 1214.2 L2312.2 1214.1 L2314.2 1213.9 L2316.2 1213.8 L2318.2 1213.6 L2320.2 1213.5 L2322.3 1213.4 L2324.3 1213.2 L2326.3 1213.1 L2328.3 1212.9 L2330.3 1212.8 L2332.3 1212.6 L2334.4 1212.4 L2336.4 1212.3 L2338.4 1212.1 L2340.4 1211.9 L2342.4 1211.7 L2344.4 1211.6 L2346.4 1211.4 L2348.4 1211.2 L2350.4 1211.0 L2352.5 1210.8 L2354.5 1210.6 L2356.5 1210.4 L2358.5 1210.2 L2360.5 1210.0 L2362.5 1209.8 L2364.5 1209.5 L2366.5 1209.3 L2368.5 1209.1 L2370.5 1208.8 L2372.5 1208.6 L2374.5 1208.4 L2376.5 1208.1 L2378.5 1207.8 L2380.5 1207.6 L2382.5 1207.3 L2384.5 1207.0 L2386.5 1206.7 L2388.4 1206.5 L2390.4 1206.2 L2392.4 1205.9 L2394.4 1205.6 L2396.4 1205.3 L2398.4 1204.9 L2400.4 1204.6 L2402.4 1204.3 L2404.3 1203.9 L2406.3 1203.6 L2408.3 1203.3 L2410.3 1202.9 L2412.3 1202.5 L2414.2 1202.2 L2416.2 1201.8 L2418.2 1201.4 L2420.1 1201.0 L2422.1 1200.6 L2424.1 1200.2 L2426.1 1199.8 L2428.0 1199.4 L2430.0 1198.9 L2431.9 1198.5 L2433.9 1198.0 L2435.9 1197.6 L2437.8 1197.1 L2440.0 1197.5 L2440.0 1266.0 L2026.0 1266.0Z"/>
</g>
<g clip-path="url(#cb)" fill="none" stroke="#0000ff" stroke-width="4.6" stroke-linecap="round" stroke-linejoin="round">
<path d="M428.5 870.4 L430.1 871.6 L431.7 872.6 L433.4 873.5 L435.2 874.4 L437.1 875.2 L439.0 876.0 L440.9 876.7 L442.8 877.5 L444.8 878.2 L446.8 878.9 L448.7 879.6 L450.7 880.3 L452.7 881.1 L454.6 881.8 L456.5 882.6 L458.4 883.5 L460.2 884.4 L462.0 885.4 L463.7 886.4 L465.3 887.6 L466.9 888.8 L468.4 890.0 L469.8 891.4 L471.2 892.8 L472.6 894.3 L473.8 895.8 L475.0 897.3 L476.2 898.9 L477.3 900.6 L478.4 902.3 L479.4 904.0 L480.4 905.8 L481.3 907.5 L482.2 909.3 L483.0 911.2 L483.8 913.0 L484.6 914.8 L485.3 916.7 L486.0 918.6 L486.6 920.5 L487.2 922.3 L487.8 924.2 L488.3 926.2 L488.9 928.1 L489.3 930.0 L489.8 931.9 L490.2 933.9 L490.6 935.8 L491.0 937.8 L491.3 939.8 L491.6 941.8 L491.9 943.7 L492.2 945.7 L492.5 947.7 L492.7 949.7 L492.9 951.7 L493.1 953.8 L493.2 955.8 L493.4 957.8 L493.5 959.8 L493.6 961.8 L493.8 963.9 L493.8 965.9 L493.9 968.0 L494.0 970.0 L494.0 972.1 L494.1 974.1 L494.1 976.1 L494.2 978.2 L494.2 980.2 L494.2 982.3 L494.2 984.4 L494.2 986.4 L494.2 988.5 L494.2 990.5 L494.2 992.6 L494.2 994.6 L494.2 996.7 L494.2 998.7 L494.2 1000.7 L494.2 1002.8 L494.3 1004.8 L494.3 1006.9 L494.3 1008.9 L494.3 1010.9 L494.3 1013.0 L494.4 1015.0 L494.4 1017.0 L494.4 1019.0 L494.5 1021.0 L494.5 1023.1 L494.6 1025.1 L494.6 1027.1 L494.6 1029.1 L494.7 1031.1 L494.7 1033.1 L494.8 1035.1 L494.9 1037.2 L494.9 1039.2 L495.0 1041.2 L495.0 1043.2 L495.1 1045.2 L495.2 1047.2 L495.2 1049.2 L495.3 1051.2 L495.4 1053.2 L495.5 1055.2 L495.5 1057.2 L495.6 1059.2 L495.7 1061.2 L495.8 1063.1 L495.8 1065.1 L495.9 1067.1 L496.0 1069.1 L496.1 1071.1 L496.2 1073.1 L496.3 1075.1 L496.3 1077.1 L496.4 1079.1 L496.5 1081.1 L496.6 1083.1 L496.7 1085.1 L496.8 1087.1 L496.9 1089.1 L496.9 1091.1 L497.0 1093.1 L497.1 1095.0 L497.2 1097.0 L497.3 1099.0 L497.4 1101.0 L497.5 1103.0 L497.5 1105.0 L497.6 1107.0 L497.7 1109.0 L497.8 1111.0 L497.9 1113.0 L498.0 1115.0 L498.0 1117.0 L498.1 1119.0 L498.2 1121.1 L498.3 1123.1 L498.3 1125.1 L498.4 1127.1 L498.5 1129.1 L498.6 1131.1 L498.6 1133.1 L498.7 1135.1 L498.8 1137.2 L498.8 1139.2 L498.9 1141.2 L499.0 1143.2 L499.0 1145.3 L499.1 1147.3 L499.1 1149.3 L499.2 1151.4 L499.2 1153.4 L499.3 1155.4 L499.3 1157.5 L499.4 1159.5 L499.4 1161.6 L499.5 1163.6 L499.5 1165.7 L499.6 1167.7 L499.6 1169.8 L499.7 1171.8 L499.8 1173.9 L499.8 1175.9 L499.9 1178.0 L500.0 1180.0 L500.2 1182.1 L500.3 1184.1 L500.4 1186.1 L500.6 1188.2 L500.8 1190.2 L501.0 1192.2 L501.2 1194.3 L501.4 1196.3 L501.7 1198.3 L502.0 1200.3 L502.3 1202.3 L502.6 1204.3 L503.0 1206.3 L503.4 1208.3 L503.8 1210.3 L504.3 1212.2 L504.7 1214.2 L505.3 1216.2 L505.8 1218.1 L506.4 1220.1 L507.0 1222.0 L507.7 1223.9 L508.4 1225.8 L509.1 1227.7 L509.9 1229.5 L510.7 1231.4 L511.6 1233.2 L512.5 1234.9 L513.5 1236.6 L514.5 1238.3 L515.6 1239.9 L516.7 1241.5 L517.8 1243.0 L519.0 1244.4 L520.3 1245.8 L521.6 1247.2 L523.0 1248.4 L524.4 1249.6 L525.9 1250.7 L527.5 1251.7 L529.1 1252.6 L530.7 1253.5 L532.5 1254.2 L534.3 1254.9 L536.1 1255.5 L538.1 1255.9 L540.1 1256.3 L542.1 1256.5 L544.2 1256.7 L546.4 1256.7 L548.6 1256.7 L550.8 1256.7 L553.1 1256.5 L555.4 1256.4 L557.7 1256.1 L560.0 1255.9 L562.3 1255.6 L564.5 1255.4 L566.8 1255.1 L569.1 1254.8 L571.3 1254.6 L573.4 1254.4 L575.6 1254.2 L577.6 1254.0 L579.6 1253.9 L581.6 1253.9 L583.4 1253.9 L585.2 1254.0 L586.9 1254.2 L588.5 1254.6 L590.0 1255.0"/>
<path d="M951.8 870.0 L953.7 870.0 L956.1 870.7 L958.3 871.4 L960.5 872.3 L962.5 873.2 L964.4 874.2 L966.2 875.2 L967.9 876.3 L969.5 877.5 L970.9 878.7 L972.3 880.0 L973.6 881.4 L974.9 882.8 L976.0 884.3 L977.0 885.8 L978.0 887.4 L978.9 889.0 L979.7 890.6 L980.5 892.3 L981.1 894.1 L981.8 895.9 L982.3 897.7 L982.8 899.5 L983.3 901.4 L983.7 903.3 L984.0 905.3 L984.3 907.2 L984.6 909.2 L984.8 911.2 L985.0 913.2 L985.2 915.3 L985.4 917.3 L985.5 919.4 L985.6 921.5 L985.7 923.6 L985.7 925.7 L985.8 927.8 L985.8 929.9 L985.9 932.0 L985.9 934.0 L986.0 936.1 L986.0 938.2 L986.1 940.3 L986.2 942.4 L986.2 944.5 L986.3 946.5 L986.3 948.6 L986.4 950.7 L986.4 952.7 L986.5 954.8 L986.5 956.8 L986.6 958.9 L986.6 961.0 L986.7 963.0 L986.7 965.1 L986.8 967.1 L986.8 969.1 L986.9 971.2 L986.9 973.2 L987.0 975.2 L987.0 977.3 L987.1 979.3 L987.1 981.3 L987.2 983.4 L987.2 985.4 L987.3 987.4 L987.3 989.4 L987.4 991.5 L987.4 993.5 L987.5 995.5 L987.5 997.5 L987.5 999.5 L987.6 1001.5 L987.6 1003.5 L987.7 1005.5 L987.7 1007.5 L987.8 1009.6 L987.8 1011.6 L987.9 1013.6 L987.9 1015.6 L987.9 1017.6 L988.0 1019.6 L988.0 1021.6 L988.0 1023.6 L988.1 1025.6 L988.1 1027.6 L988.2 1029.5 L988.2 1031.5 L988.2 1033.5 L988.3 1035.5 L988.3 1037.5 L988.3 1039.5 L988.3 1041.5 L988.4 1043.5 L988.4 1045.5 L988.4 1047.5 L988.4 1049.5 L988.5 1051.5 L988.5 1053.5 L988.5 1055.5 L988.5 1057.5 L988.5 1059.5 L988.6 1061.5 L988.6 1063.4 L988.6 1065.4 L988.6 1067.4 L988.6 1069.4 L988.6 1071.4 L988.6 1073.4 L988.6 1075.4 L988.6 1077.4 L988.6 1079.4 L988.6 1081.4 L988.6 1083.4 L988.6 1085.4 L988.6 1087.4 L988.6 1089.5 L988.6 1091.5 L988.6 1093.5 L988.6 1095.5 L988.6 1097.5 L988.6 1099.5 L988.6 1101.5 L988.6 1103.5 L988.5 1105.6 L988.5 1107.6 L988.5 1109.6 L988.5 1111.6 L988.4 1113.6 L988.4 1115.7 L988.4 1117.7 L988.4 1119.7 L988.3 1121.8 L988.3 1123.8 L988.3 1125.8 L988.2 1127.9 L988.2 1129.9 L988.2 1131.9 L988.2 1134.0 L988.1 1136.0 L988.1 1138.1 L988.1 1140.1 L988.1 1142.1 L988.1 1144.2 L988.1 1146.2 L988.1 1148.3 L988.1 1150.3 L988.1 1152.3 L988.1 1154.4 L988.1 1156.4 L988.1 1158.4 L988.1 1160.5 L988.2 1162.5 L988.2 1164.6 L988.3 1166.6 L988.3 1168.6 L988.4 1170.7 L988.4 1172.7 L988.5 1174.7 L988.6 1176.8 L988.7 1178.8 L988.8 1180.8 L988.9 1182.8 L989.1 1184.9 L989.2 1186.9 L989.3 1188.9 L989.5 1190.9 L989.7 1192.9 L989.9 1194.9 L990.0 1196.9 L990.3 1199.0 L990.5 1201.0 L990.7 1203.0 L991.0 1205.0 L991.2 1206.9 L991.5 1208.9 L991.8 1210.9 L992.1 1212.9 L992.4 1214.9 L992.7 1216.9 L993.1 1218.8 L993.4 1220.8 L993.8 1222.8 L994.2 1224.7 L994.6 1226.7 L995.1 1228.7 L995.5 1230.6 L996.0 1232.6 L996.5 1234.5 L997.0 1236.4 L997.5 1238.4 L998.1 1240.3 L998.6 1242.2 L999.2 1244.1 L999.9 1246.0 L1000.6 1247.8 L1001.3 1249.6 L1002.2 1251.2 L1003.2 1252.8 L1004.4 1254.2 L1005.7 1255.4 L1007.2 1256.5 L1008.9 1257.4 L1010.7 1258.1 L1012.8 1258.6 L1015.0 1258.8 L1017.3 1258.9 L1019.7 1258.9 L1022.1 1258.7 L1024.4 1258.3 L1026.5 1257.9 L1028.6 1257.4 L1030.0 1257.0"/>
<path d="M1473.6 870.0 L1475.8 870.0 L1478.0 870.9 L1480.0 871.9 L1481.8 872.9 L1483.5 874.0 L1485.1 875.2 L1486.5 876.5 L1487.8 877.9 L1489.0 879.3 L1490.0 880.8 L1491.0 882.4 L1491.8 884.0 L1492.5 885.7 L1493.2 887.4 L1493.8 889.2 L1494.2 891.1 L1494.6 892.9 L1495.0 894.8 L1495.3 896.8 L1495.5 898.7 L1495.7 900.7 L1495.8 902.7 L1496.0 904.8 L1496.0 906.8 L1496.1 908.9 L1496.1 910.9 L1496.2 913.0 L1496.2 915.1 L1496.2 917.1 L1496.3 919.2 L1496.3 921.2 L1496.3 923.3 L1496.4 925.4 L1496.4 927.4 L1496.4 929.5 L1496.5 931.5 L1496.5 933.6 L1496.5 935.6 L1496.6 937.7 L1496.6 939.7 L1496.6 941.8 L1496.7 943.8 L1496.7 945.9 L1496.7 947.9 L1496.7 949.9 L1496.8 952.0 L1496.8 954.0 L1496.8 956.0 L1496.9 958.1 L1496.9 960.1 L1496.9 962.1 L1496.9 964.2 L1497.0 966.2 L1497.0 968.2 L1497.0 970.2 L1497.0 972.3 L1497.1 974.3 L1497.1 976.3 L1497.1 978.3 L1497.2 980.3 L1497.2 982.4 L1497.2 984.4 L1497.2 986.4 L1497.3 988.4 L1497.3 990.4 L1497.3 992.4 L1497.3 994.5 L1497.3 996.5 L1497.4 998.5 L1497.4 1000.5 L1497.4 1002.5 L1497.4 1004.5 L1497.5 1006.5 L1497.5 1008.5 L1497.5 1010.5 L1497.5 1012.5 L1497.5 1014.5 L1497.6 1016.5 L1497.6 1018.5 L1497.6 1020.5 L1497.6 1022.6 L1497.6 1024.6 L1497.7 1026.6 L1497.7 1028.6 L1497.7 1030.6 L1497.7 1032.6 L1497.7 1034.6 L1497.7 1036.6 L1497.8 1038.6 L1497.8 1040.6 L1497.8 1042.6 L1497.8 1044.6 L1497.8 1046.5 L1497.8 1048.5 L1497.9 1050.5 L1497.9 1052.5 L1497.9 1054.5 L1497.9 1056.5 L1497.9 1058.5 L1497.9 1060.5 L1497.9 1062.5 L1497.9 1064.5 L1498.0 1066.5 L1498.0 1068.5 L1498.0 1070.5 L1498.0 1072.5 L1498.0 1074.5 L1498.0 1076.5 L1498.0 1078.5 L1498.0 1080.5 L1498.0 1082.5 L1498.0 1084.5 L1498.0 1086.5 L1498.1 1088.5 L1498.1 1090.5 L1498.1 1092.5 L1498.1 1094.5 L1498.1 1096.5 L1498.1 1098.5 L1498.1 1100.5 L1498.1 1102.5 L1498.1 1104.5 L1498.1 1106.5 L1498.1 1108.5 L1498.1 1110.5 L1498.1 1112.5 L1498.1 1114.5 L1498.1 1116.5 L1498.1 1118.5 L1498.1 1120.5 L1498.1 1122.5 L1498.1 1124.6 L1498.1 1126.6 L1498.1 1128.6 L1498.1 1130.6 L1498.1 1132.6 L1498.2 1134.6 L1498.2 1136.6 L1498.2 1138.6 L1498.2 1140.6 L1498.2 1142.7 L1498.2 1144.7 L1498.3 1146.7 L1498.3 1148.7 L1498.3 1150.7 L1498.3 1152.7 L1498.4 1154.7 L1498.4 1156.8 L1498.5 1158.8 L1498.5 1160.8 L1498.6 1162.8 L1498.6 1164.8 L1498.7 1166.9 L1498.7 1168.9 L1498.8 1170.9 L1498.9 1172.9 L1499.0 1175.0 L1499.1 1177.0 L1499.1 1179.0 L1499.2 1181.0 L1499.3 1183.1 L1499.5 1185.1 L1499.6 1187.1 L1499.7 1189.1 L1499.8 1191.2 L1500.0 1193.2 L1500.1 1195.2 L1500.3 1197.3 L1500.4 1199.3 L1500.6 1201.3 L1500.7 1203.4 L1500.9 1205.4 L1501.1 1207.4 L1501.3 1209.5 L1501.5 1211.5 L1501.7 1213.5 L1502.0 1215.6 L1502.2 1217.6 L1502.4 1219.6 L1502.7 1221.7 L1502.9 1223.7 L1503.2 1225.8 L1503.5 1227.8 L1503.8 1229.9 L1504.1 1231.9 L1504.4 1233.9 L1504.7 1236.0 L1505.1 1238.0 L1505.4 1240.0 L1505.8 1242.0 L1506.3 1244.0 L1506.8 1245.8 L1507.4 1247.6 L1508.0 1249.4 L1508.8 1251.0 L1509.6 1252.5 L1510.5 1253.9 L1511.6 1255.1 L1512.8 1256.2 L1514.1 1257.2 L1515.6 1257.9 L1517.2 1258.5 L1519.1 1258.8 L1521.0 1259.0 L1523.2 1258.9 L1525.6 1258.6 L1528.0 1257.0"/>
<path d="M1996.4 870.0 L1998.6 870.2 L2000.4 871.3 L2002.1 872.6 L2003.6 873.9 L2005.0 875.2 L2006.3 876.7 L2007.4 878.2 L2008.4 879.8 L2009.3 881.4 L2010.0 883.1 L2010.7 884.8 L2011.3 886.6 L2011.8 888.4 L2012.2 890.3 L2012.5 892.2 L2012.8 894.1 L2013.0 896.1 L2013.2 898.1 L2013.3 900.1 L2013.3 902.1 L2013.4 904.2 L2013.4 906.2 L2013.3 908.3 L2013.3 910.4 L2013.3 912.5 L2013.2 914.6 L2013.2 916.6 L2013.1 918.7 L2013.1 920.8 L2013.0 922.9 L2013.0 924.9 L2013.0 927.0 L2013.0 929.1 L2012.9 931.1 L2012.9 933.2 L2012.9 935.3 L2012.9 937.3 L2012.9 939.4 L2012.9 941.4 L2012.8 943.5 L2012.8 945.5 L2012.8 947.6 L2012.8 949.6 L2012.8 951.7 L2012.8 953.7 L2012.8 955.7 L2012.8 957.8 L2012.8 959.8 L2012.8 961.8 L2012.9 963.9 L2012.9 965.9 L2012.9 967.9 L2012.9 970.0 L2012.9 972.0 L2012.9 974.0 L2012.9 976.0 L2013.0 978.1 L2013.0 980.1 L2013.0 982.1 L2013.0 984.1 L2013.1 986.1 L2013.1 988.1 L2013.1 990.1 L2013.1 992.2 L2013.2 994.2 L2013.2 996.2 L2013.2 998.2 L2013.2 1000.2 L2013.3 1002.2 L2013.3 1004.2 L2013.3 1006.2 L2013.4 1008.2 L2013.4 1010.2 L2013.4 1012.2 L2013.5 1014.2 L2013.5 1016.2 L2013.5 1018.2 L2013.6 1020.2 L2013.6 1022.2 L2013.6 1024.2 L2013.7 1026.2 L2013.7 1028.2 L2013.7 1030.2 L2013.8 1032.2 L2013.8 1034.2 L2013.8 1036.2 L2013.9 1038.2 L2013.9 1040.2 L2013.9 1042.2 L2013.9 1044.2 L2014.0 1046.2 L2014.0 1048.2 L2014.0 1050.2 L2014.1 1052.2 L2014.1 1054.2 L2014.1 1056.2 L2014.1 1058.2 L2014.1 1060.2 L2014.2 1062.2 L2014.2 1064.2 L2014.2 1066.2 L2014.2 1068.2 L2014.2 1070.2 L2014.3 1072.2 L2014.3 1074.2 L2014.3 1076.2 L2014.3 1078.2 L2014.3 1080.2 L2014.3 1082.2 L2014.3 1084.2 L2014.3 1086.2 L2014.3 1088.2 L2014.3 1090.2 L2014.3 1092.2 L2014.3 1094.2 L2014.3 1096.2 L2014.3 1098.2 L2014.3 1100.3 L2014.3 1102.3 L2014.2 1104.3 L2014.2 1106.3 L2014.2 1108.3 L2014.2 1110.3 L2014.2 1112.4 L2014.1 1114.4 L2014.1 1116.4 L2014.1 1118.4 L2014.0 1120.5 L2014.0 1122.5 L2014.0 1124.5 L2013.9 1126.5 L2013.9 1128.6 L2013.8 1130.6 L2013.8 1132.6 L2013.8 1134.7 L2013.7 1136.7 L2013.7 1138.7 L2013.7 1140.8 L2013.6 1142.8 L2013.6 1144.8 L2013.6 1146.9 L2013.6 1148.9 L2013.6 1150.9 L2013.5 1153.0 L2013.5 1155.0 L2013.5 1157.0 L2013.5 1159.1 L2013.5 1161.1 L2013.5 1163.1 L2013.5 1165.2 L2013.5 1167.2 L2013.5 1169.2 L2013.6 1171.3 L2013.6 1173.3 L2013.6 1175.3 L2013.7 1177.4 L2013.7 1179.4 L2013.8 1181.4 L2013.8 1183.5 L2013.9 1185.5 L2014.0 1187.5 L2014.1 1189.5 L2014.2 1191.6 L2014.3 1193.6 L2014.4 1195.6 L2014.5 1197.6 L2014.6 1199.6 L2014.8 1201.7 L2014.9 1203.7 L2015.1 1205.7 L2015.2 1207.7 L2015.4 1209.7 L2015.6 1211.7 L2015.8 1213.7 L2016.0 1215.7 L2016.2 1217.7 L2016.5 1219.7 L2016.7 1221.7 L2017.0 1223.7 L2017.3 1225.7 L2017.6 1227.7 L2017.9 1229.7 L2018.2 1231.7 L2018.5 1233.7 L2018.9 1235.7 L2019.2 1237.7 L2019.6 1239.6 L2020.0 1241.6 L2020.4 1243.6 L2020.8 1245.6 L2021.3 1247.5 L2021.7 1249.5 L2022.2 1251.4 L2022.8 1253.3 L2023.4 1255.0 L2024.2 1256.6 L2025.2 1257.9 L2026.3 1259.0 L2027.6 1259.8 L2029.2 1260.2 L2031.1 1260.2 L2033.3 1259.8 L2036.0 1258.0"/>
</g>
<rect x="310.00" y="203.75" width="2122.00" height="400.00" fill="none" stroke="#000" stroke-width="6.0"/>
<rect x="310.00" y="867.00" width="2122.00" height="398.00" fill="none" stroke="#000" stroke-width="6.0"/>
<path d="M410.8 603.75V572.75 M916.1 603.75V572.75 M1421.4 603.75V572.75 M1926.7 603.75V572.75 M475.3 203.75V234.75 M812.4 203.75V234.75 M1149.5 203.75V234.75 M1486.6 203.75V234.75 M1823.7 203.75V234.75 M2160.8 203.75V234.75 M310.0 403.75H341.0 M2432.0 403.75H2401.0 M410.8 1265.00V1234.00 M410.8 867.00V898.00 M916.1 1265.00V1234.00 M916.1 867.00V898.00 M1421.4 1265.00V1234.00 M1421.4 867.00V898.00 M1926.7 1265.00V1234.00 M1926.7 867.00V898.00 M310.0 1066.00H341.0 M2432.0 1066.00H2401.0" stroke="#000" stroke-width="5.5" fill="none"/>
<g font-family="Liberation Sans, Arial, sans-serif" fill="#000">
<text x="18.5" y="96.65" font-size="107" fill="#372d2c"><tspan font-size="111" stroke="#fff" stroke-width="2">(</tspan><tspan dx="3.24" dy="3.75">a</tspan><tspan dx="9.8" dy="-3.75" font-size="111" stroke="#fff" stroke-width="2">)</tspan></text>
<text x="18.5" y="902.55" font-size="107" fill="#372d2c"><tspan font-size="111" stroke="#fff" stroke-width="2">(</tspan><tspan dx="4.64" dy="2.85">b</tspan><tspan dx="8.1" dy="-2.85" font-size="111" stroke="#fff" stroke-width="2">)</tspan></text>
<text x="432.02" y="182.34" font-size="78">35</text>
<text x="769.46" y="182.34" font-size="78">30</text>
<text x="1107.10" y="182.34" font-size="78">25</text>
<text x="1442.18" y="182.34" font-size="78">20</text>
<text x="1777.00" y="182.00" font-size="78" clip-path="url(#c0)">15</text>
<text x="2117.00" y="182.00" font-size="78" clip-path="url(#c1)">10</text>
<text x="1282 1309 1351.9 1390.4 1449.5 1536.4" y="97" font-size="98"><tspan dy="9.8">λ</tspan><tspan dy="-9.8"> (μm)</tspan></text>
<text x="248.00" y="243.00" font-size="78" clip-path="url(#c2)">1</text>
<text x="169.64" y="422.74" font-size="78">0.5</text>
<text x="235.77" y="622.14" font-size="78">0</text>
<text transform="translate(132.9,396.4) rotate(-90)" font-size="100" text-anchor="middle">T</text>
<text x="366.00" y="691.00" font-size="78" clip-path="url(#c3)">10</text>
<text x="871.48" y="691.14" font-size="78">20</text>
<text x="1377.36" y="691.14" font-size="78">30</text>
<text x="1881.85" y="691.14" font-size="78">40</text>
<text x="2389.58" y="691.14" font-size="78" clip-path="url(#c4)">50</text>
<text x="1270.4" y="795.5" font-size="98">f (THz)</text>
<text x="249.00" y="911.00" font-size="78" clip-path="url(#c5)">1</text>
<text x="169.04" y="1091.24" font-size="78">0.5</text>
<text x="233.87" y="1289.64" font-size="78">0</text>
<text transform="translate(133.5,1068.3) rotate(-90)" font-size="103" text-anchor="middle">R</text>
<text x="370.00" y="1354.00" font-size="78" clip-path="url(#c6)">10</text>
<text x="873.78" y="1353.84" font-size="78">20</text>
<text x="1381.36" y="1353.84" font-size="78">30</text>
<text x="1885.85" y="1353.84" font-size="78">40</text>
<text x="2390.78" y="1353.84" font-size="78" clip-path="url(#c7)">50</text>
<text x="1270.4" y="1456.2" font-size="98">f (THz)</text>
</g>
</svg>
</body></html>
